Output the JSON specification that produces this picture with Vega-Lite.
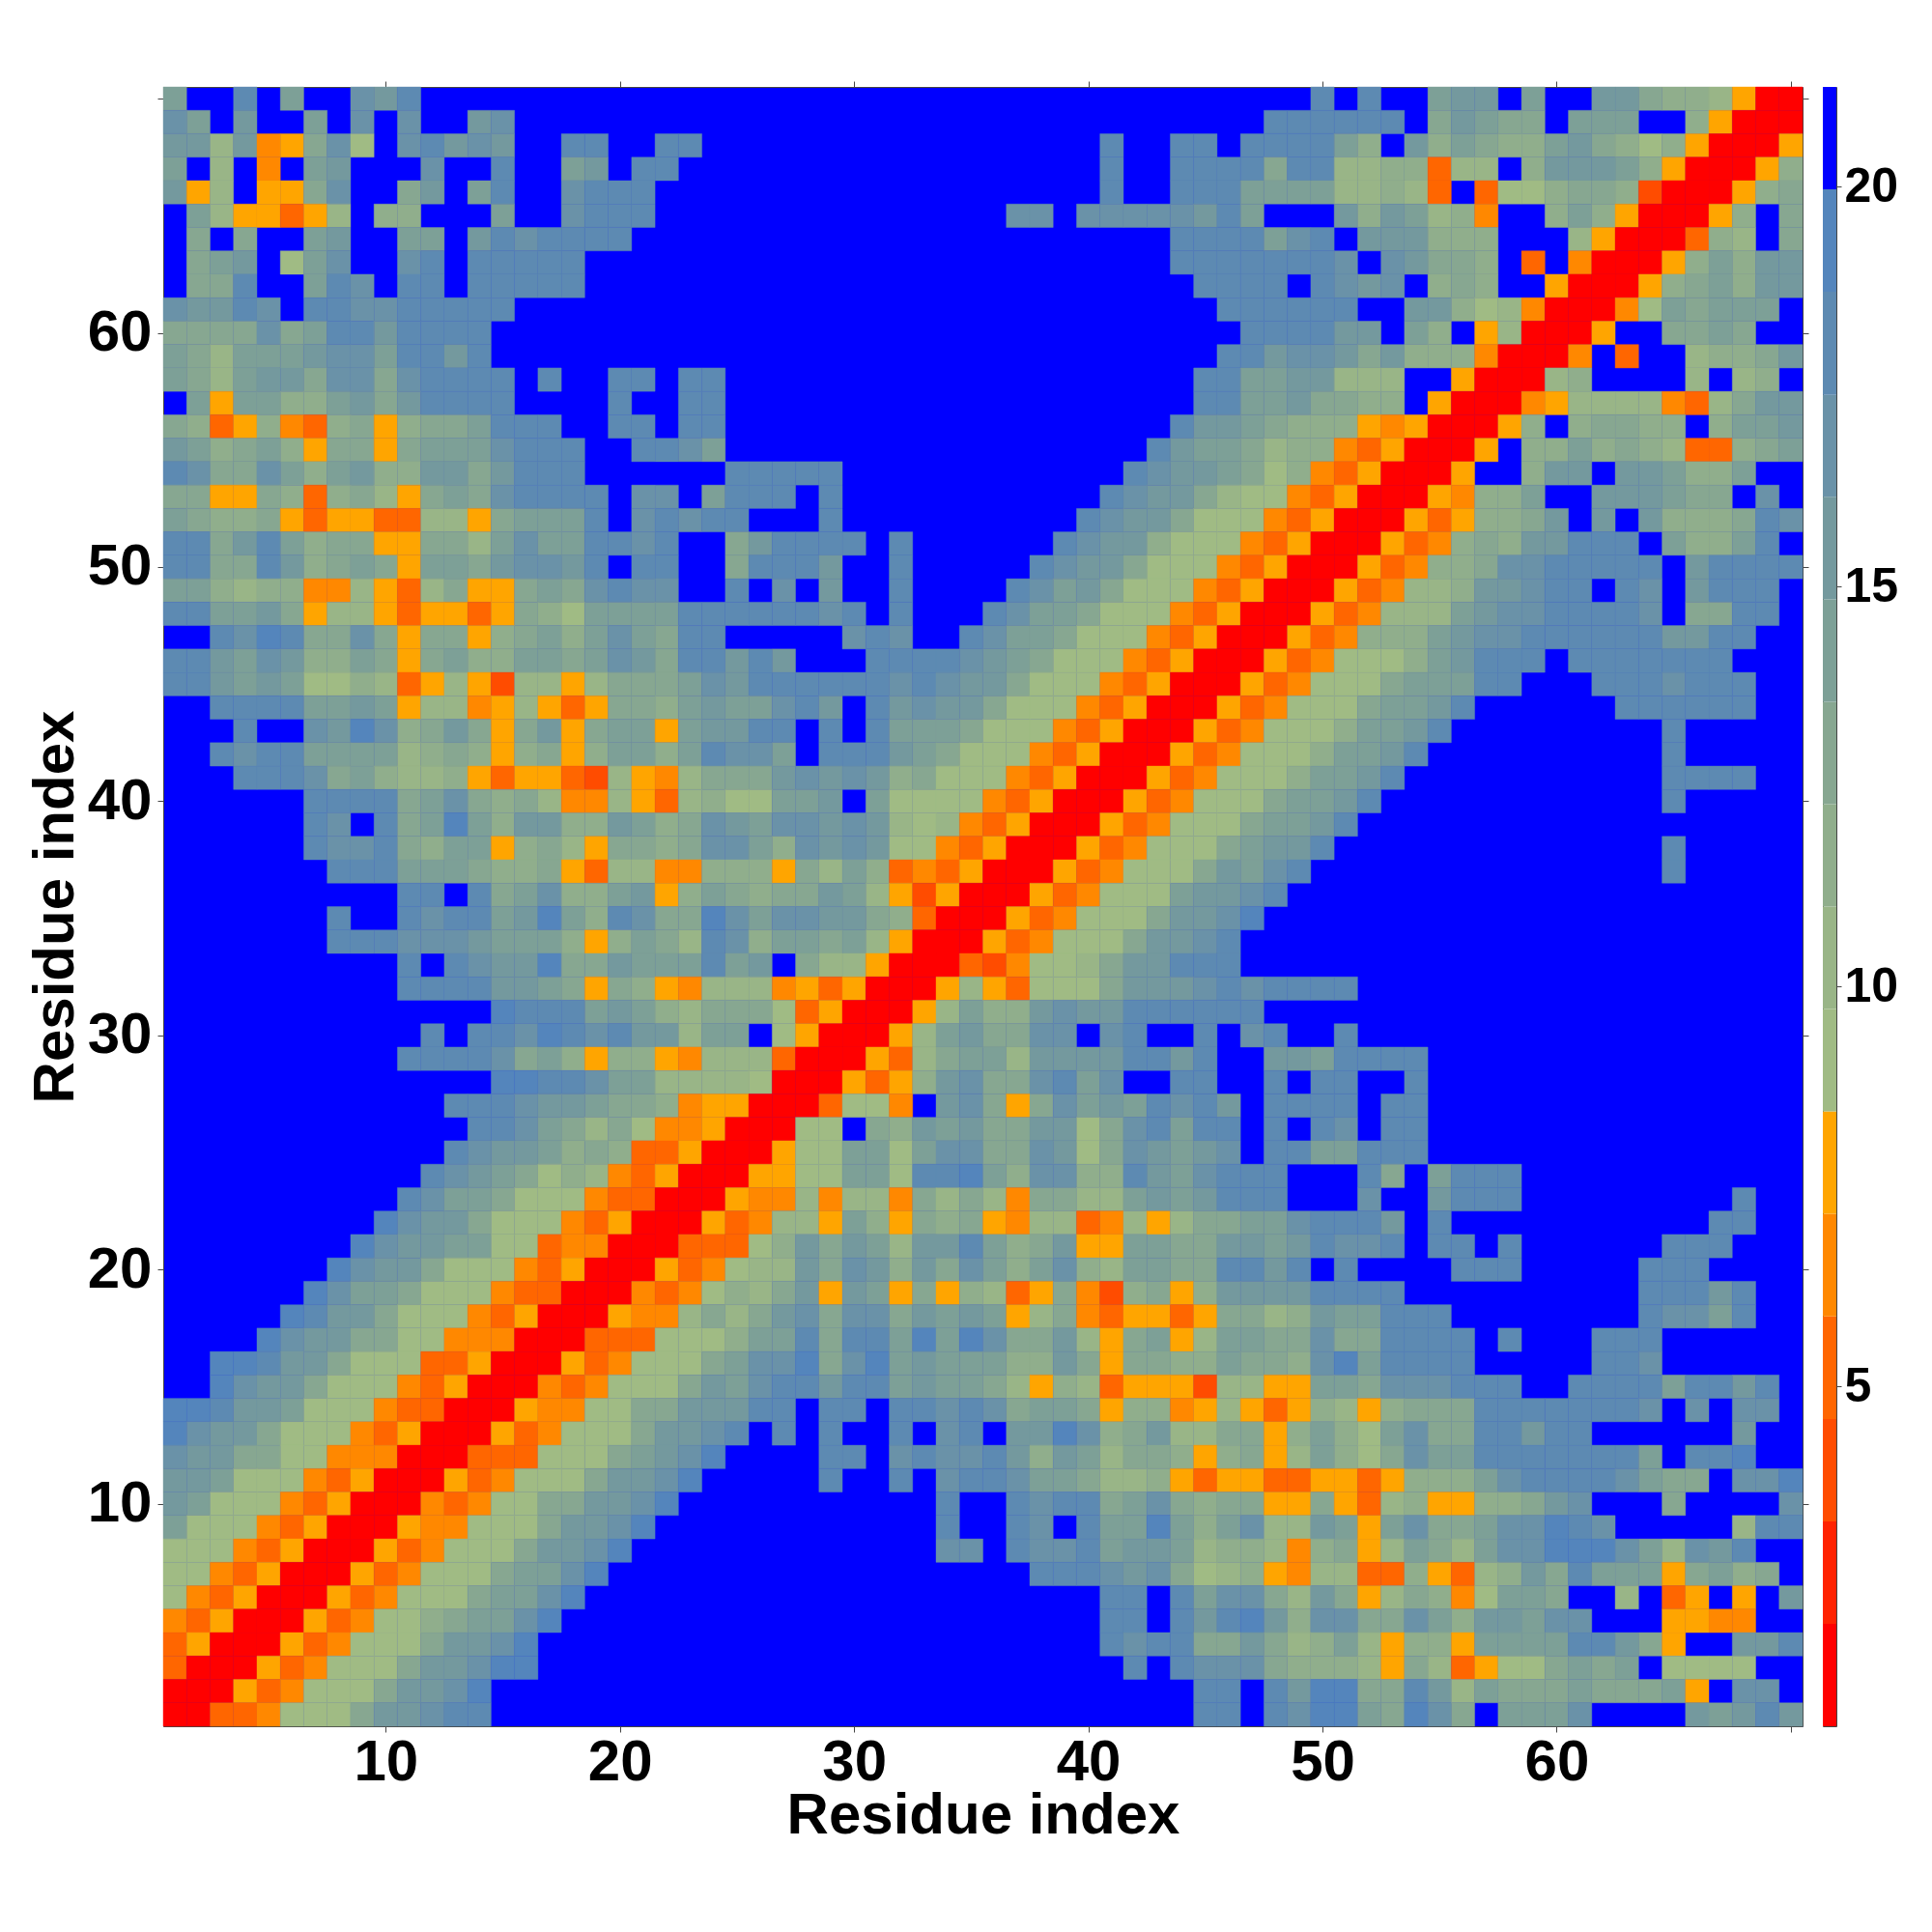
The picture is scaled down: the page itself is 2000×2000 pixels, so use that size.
{"$schema":"https://vega.github.io/schema/vega-lite/v6.json","padding":{"left":26,"top":83,"right":0,"bottom":0},"background":"white","config":{"font":"Liberation Sans","axis":{"labelFont":"Liberation Sans","titleFont":"Liberation Sans","labelFontWeight":"bold","titleFontWeight":"bold","labelColor":"black","titleColor":"black","tickColor":"#444","domainColor":"#444","grid":false}},"spacing":13,"hconcat":[{"width":1697,"height":1697,"view":{"fill":"#0000ff","stroke":"#444"},"resolve":{"axis":{"x":"independent","y":"independent"}},"layer":[{"data":{"values":[
{"x":1,"y":70,"v":14},{"x":4,"y":70,"v":18},{"x":6,"y":70,"v":14},{"x":9,"y":70,"v":17},{"x":10,"y":70,"v":15},{"x":11,"y":70,"v":18},{"x":50,"y":70,"v":18},{"x":52,"y":70,"v":18},{"x":55,"y":70,"v":14},{"x":56,"y":70,"v":15},{"x":57,"y":70,"v":15},{"x":59,"y":70,"v":14},{"x":62,"y":70,"v":15},{"x":63,"y":70,"v":15},{"x":64,"y":70,"v":13},{"x":65,"y":70,"v":12},{"x":66,"y":70,"v":12},{"x":67,"y":70,"v":10},{"x":68,"y":70,"v":8},{"x":69,"y":70,"v":1},{"x":70,"y":70,"v":1},
{"x":1,"y":69,"v":17},{"x":2,"y":69,"v":14},{"x":4,"y":69,"v":15},{"x":7,"y":69,"v":14},{"x":9,"y":69,"v":17},{"x":11,"y":69,"v":17},{"x":14,"y":69,"v":15},{"x":15,"y":69,"v":17},{"x":48,"y":69,"v":18},{"x":49,"y":69,"v":18},{"x":50,"y":69,"v":18},{"x":51,"y":69,"v":18},{"x":52,"y":69,"v":18},{"x":53,"y":69,"v":18},{"x":55,"y":69,"v":13},{"x":56,"y":69,"v":15},{"x":57,"y":69,"v":14},{"x":58,"y":69,"v":13},{"x":59,"y":69,"v":13},{"x":61,"y":69,"v":14},{"x":62,"y":69,"v":14},{"x":63,"y":69,"v":14},{"x":66,"y":69,"v":12},{"x":67,"y":69,"v":8},{"x":68,"y":69,"v":1},{"x":69,"y":69,"v":1},{"x":70,"y":69,"v":1},
{"x":1,"y":68,"v":15},{"x":2,"y":68,"v":15},{"x":3,"y":68,"v":10},{"x":4,"y":68,"v":15},{"x":5,"y":68,"v":7},{"x":6,"y":68,"v":8},{"x":7,"y":68,"v":13},{"x":8,"y":68,"v":17},{"x":9,"y":68,"v":9},{"x":11,"y":68,"v":17},{"x":12,"y":68,"v":18},{"x":13,"y":68,"v":15},{"x":14,"y":68,"v":17},{"x":15,"y":68,"v":15},{"x":18,"y":68,"v":18},{"x":19,"y":68,"v":18},{"x":22,"y":68,"v":18},{"x":23,"y":68,"v":18},{"x":41,"y":68,"v":18},{"x":44,"y":68,"v":18},{"x":45,"y":68,"v":18},{"x":47,"y":68,"v":18},{"x":48,"y":68,"v":18},{"x":49,"y":68,"v":18},{"x":50,"y":68,"v":18},{"x":51,"y":68,"v":14},{"x":52,"y":68,"v":12},{"x":54,"y":68,"v":15},{"x":55,"y":68,"v":12},{"x":56,"y":68,"v":14},{"x":57,"y":68,"v":13},{"x":58,"y":68,"v":12},{"x":59,"y":68,"v":12},{"x":60,"y":68,"v":14},{"x":61,"y":68,"v":15},{"x":62,"y":68,"v":13},{"x":63,"y":68,"v":12},{"x":64,"y":68,"v":9},{"x":65,"y":68,"v":12},{"x":66,"y":68,"v":8},{"x":67,"y":68,"v":1},{"x":68,"y":68,"v":1},{"x":69,"y":68,"v":1},{"x":70,"y":68,"v":8},
{"x":1,"y":67,"v":14},{"x":3,"y":67,"v":10},{"x":5,"y":67,"v":7},{"x":7,"y":67,"v":14},{"x":8,"y":67,"v":15},{"x":12,"y":67,"v":17},{"x":15,"y":67,"v":18},{"x":18,"y":67,"v":14},{"x":19,"y":67,"v":15},{"x":21,"y":67,"v":18},{"x":22,"y":67,"v":18},{"x":41,"y":67,"v":18},{"x":44,"y":67,"v":18},{"x":45,"y":67,"v":18},{"x":46,"y":67,"v":18},{"x":47,"y":67,"v":18},{"x":48,"y":67,"v":13},{"x":49,"y":67,"v":18},{"x":50,"y":67,"v":18},{"x":51,"y":67,"v":10},{"x":52,"y":67,"v":10},{"x":53,"y":67,"v":12},{"x":54,"y":67,"v":12},{"x":55,"y":67,"v":5},{"x":56,"y":67,"v":10},{"x":57,"y":67,"v":10},{"x":59,"y":67,"v":12},{"x":60,"y":67,"v":15},{"x":61,"y":67,"v":15},{"x":62,"y":67,"v":15},{"x":63,"y":67,"v":14},{"x":64,"y":67,"v":12},{"x":65,"y":67,"v":8},{"x":66,"y":67,"v":1},{"x":67,"y":67,"v":1},{"x":68,"y":67,"v":1},{"x":69,"y":67,"v":8},{"x":70,"y":67,"v":12},
{"x":1,"y":66,"v":15},{"x":2,"y":66,"v":8},{"x":3,"y":66,"v":10},{"x":5,"y":66,"v":8},{"x":6,"y":66,"v":8},{"x":7,"y":66,"v":13},{"x":8,"y":66,"v":17},{"x":11,"y":66,"v":13},{"x":12,"y":66,"v":15},{"x":14,"y":66,"v":14},{"x":15,"y":66,"v":18},{"x":18,"y":66,"v":17},{"x":19,"y":66,"v":18},{"x":20,"y":66,"v":18},{"x":21,"y":66,"v":18},{"x":41,"y":66,"v":18},{"x":44,"y":66,"v":18},{"x":45,"y":66,"v":18},{"x":46,"y":66,"v":18},{"x":47,"y":66,"v":14},{"x":48,"y":66,"v":14},{"x":49,"y":66,"v":14},{"x":50,"y":66,"v":14},{"x":51,"y":66,"v":10},{"x":52,"y":66,"v":10},{"x":53,"y":66,"v":12},{"x":54,"y":66,"v":10},{"x":55,"y":66,"v":5},{"x":57,"y":66,"v":5},{"x":58,"y":66,"v":9},{"x":59,"y":66,"v":9},{"x":60,"y":66,"v":12},{"x":61,"y":66,"v":13},{"x":62,"y":66,"v":13},{"x":63,"y":66,"v":12},{"x":64,"y":66,"v":4},{"x":65,"y":66,"v":1},{"x":66,"y":66,"v":1},{"x":67,"y":66,"v":1},{"x":68,"y":66,"v":8},{"x":69,"y":66,"v":12},{"x":70,"y":66,"v":13},
{"x":2,"y":65,"v":14},{"x":3,"y":65,"v":10},{"x":4,"y":65,"v":8},{"x":5,"y":65,"v":8},{"x":6,"y":65,"v":5},{"x":7,"y":65,"v":8},{"x":8,"y":65,"v":10},{"x":10,"y":65,"v":12},{"x":11,"y":65,"v":12},{"x":15,"y":65,"v":14},{"x":18,"y":65,"v":17},{"x":19,"y":65,"v":18},{"x":20,"y":65,"v":18},{"x":21,"y":65,"v":18},{"x":37,"y":65,"v":17},{"x":38,"y":65,"v":17},{"x":40,"y":65,"v":17},{"x":41,"y":65,"v":17},{"x":42,"y":65,"v":17},{"x":43,"y":65,"v":17},{"x":44,"y":65,"v":17},{"x":45,"y":65,"v":15},{"x":46,"y":65,"v":18},{"x":47,"y":65,"v":14},{"x":51,"y":65,"v":15},{"x":52,"y":65,"v":12},{"x":53,"y":65,"v":15},{"x":54,"y":65,"v":14},{"x":55,"y":65,"v":10},{"x":56,"y":65,"v":12},{"x":57,"y":65,"v":7},{"x":60,"y":65,"v":12},{"x":61,"y":65,"v":14},{"x":62,"y":65,"v":12},{"x":63,"y":65,"v":8},{"x":64,"y":65,"v":1},{"x":65,"y":65,"v":1},{"x":66,"y":65,"v":1},{"x":67,"y":65,"v":8},{"x":68,"y":65,"v":12},{"x":70,"y":65,"v":13},
{"x":2,"y":64,"v":13},{"x":4,"y":64,"v":13},{"x":7,"y":64,"v":14},{"x":8,"y":64,"v":15},{"x":11,"y":64,"v":14},{"x":12,"y":64,"v":14},{"x":14,"y":64,"v":15},{"x":15,"y":64,"v":18},{"x":16,"y":64,"v":17},{"x":17,"y":64,"v":18},{"x":18,"y":64,"v":18},{"x":19,"y":64,"v":18},{"x":20,"y":64,"v":18},{"x":44,"y":64,"v":18},{"x":45,"y":64,"v":18},{"x":46,"y":64,"v":18},{"x":47,"y":64,"v":18},{"x":48,"y":64,"v":14},{"x":49,"y":64,"v":17},{"x":50,"y":64,"v":18},{"x":52,"y":64,"v":15},{"x":53,"y":64,"v":15},{"x":54,"y":64,"v":15},{"x":55,"y":64,"v":12},{"x":56,"y":64,"v":12},{"x":57,"y":64,"v":12},{"x":61,"y":64,"v":10},{"x":62,"y":64,"v":8},{"x":63,"y":64,"v":1},{"x":64,"y":64,"v":1},{"x":65,"y":64,"v":1},{"x":66,"y":64,"v":5},{"x":67,"y":64,"v":12},{"x":68,"y":64,"v":10},{"x":70,"y":64,"v":13},
{"x":2,"y":63,"v":13},{"x":3,"y":63,"v":14},{"x":4,"y":63,"v":15},{"x":6,"y":63,"v":9},{"x":7,"y":63,"v":14},{"x":8,"y":63,"v":17},{"x":11,"y":63,"v":17},{"x":12,"y":63,"v":18},{"x":14,"y":63,"v":18},{"x":15,"y":63,"v":18},{"x":16,"y":63,"v":18},{"x":17,"y":63,"v":18},{"x":18,"y":63,"v":18},{"x":44,"y":63,"v":18},{"x":45,"y":63,"v":18},{"x":46,"y":63,"v":18},{"x":47,"y":63,"v":18},{"x":48,"y":63,"v":18},{"x":49,"y":63,"v":18},{"x":50,"y":63,"v":18},{"x":51,"y":63,"v":17},{"x":53,"y":63,"v":17},{"x":54,"y":63,"v":15},{"x":55,"y":63,"v":13},{"x":56,"y":63,"v":13},{"x":57,"y":63,"v":12},{"x":59,"y":63,"v":5},{"x":61,"y":63,"v":7},{"x":62,"y":63,"v":1},{"x":63,"y":63,"v":1},{"x":64,"y":63,"v":1},{"x":65,"y":63,"v":8},{"x":66,"y":63,"v":12},{"x":67,"y":63,"v":14},{"x":68,"y":63,"v":12},{"x":69,"y":63,"v":15},{"x":70,"y":63,"v":15},
{"x":2,"y":62,"v":13},{"x":3,"y":62,"v":13},{"x":4,"y":62,"v":18},{"x":7,"y":62,"v":14},{"x":8,"y":62,"v":18},{"x":9,"y":62,"v":17},{"x":11,"y":62,"v":18},{"x":12,"y":62,"v":18},{"x":14,"y":62,"v":18},{"x":15,"y":62,"v":18},{"x":16,"y":62,"v":18},{"x":17,"y":62,"v":18},{"x":18,"y":62,"v":18},{"x":45,"y":62,"v":18},{"x":46,"y":62,"v":18},{"x":47,"y":62,"v":18},{"x":48,"y":62,"v":18},{"x":50,"y":62,"v":18},{"x":51,"y":62,"v":17},{"x":52,"y":62,"v":15},{"x":53,"y":62,"v":17},{"x":55,"y":62,"v":12},{"x":56,"y":62,"v":13},{"x":57,"y":62,"v":12},{"x":60,"y":62,"v":8},{"x":61,"y":62,"v":1},{"x":62,"y":62,"v":1},{"x":63,"y":62,"v":1},{"x":64,"y":62,"v":8},{"x":65,"y":62,"v":12},{"x":66,"y":62,"v":13},{"x":67,"y":62,"v":14},{"x":68,"y":62,"v":12},{"x":69,"y":62,"v":15},{"x":70,"y":62,"v":15},
{"x":1,"y":61,"v":17},{"x":2,"y":61,"v":15},{"x":3,"y":61,"v":15},{"x":4,"y":61,"v":18},{"x":5,"y":61,"v":17},{"x":7,"y":61,"v":18},{"x":8,"y":61,"v":18},{"x":9,"y":61,"v":17},{"x":10,"y":61,"v":17},{"x":11,"y":61,"v":18},{"x":12,"y":61,"v":18},{"x":13,"y":61,"v":18},{"x":14,"y":61,"v":18},{"x":15,"y":61,"v":18},{"x":46,"y":61,"v":18},{"x":47,"y":61,"v":18},{"x":48,"y":61,"v":18},{"x":49,"y":61,"v":18},{"x":50,"y":61,"v":18},{"x":51,"y":61,"v":18},{"x":54,"y":61,"v":15},{"x":55,"y":61,"v":15},{"x":56,"y":61,"v":12},{"x":57,"y":61,"v":9},{"x":58,"y":61,"v":10},{"x":59,"y":61,"v":7},{"x":60,"y":61,"v":1},{"x":61,"y":61,"v":1},{"x":62,"y":61,"v":1},{"x":63,"y":61,"v":7},{"x":64,"y":61,"v":9},{"x":65,"y":61,"v":14},{"x":66,"y":61,"v":13},{"x":67,"y":61,"v":14},{"x":68,"y":61,"v":14},{"x":69,"y":61,"v":14},
{"x":1,"y":60,"v":13},{"x":2,"y":60,"v":13},{"x":3,"y":60,"v":13},{"x":4,"y":60,"v":13},{"x":5,"y":60,"v":17},{"x":6,"y":60,"v":13},{"x":7,"y":60,"v":14},{"x":8,"y":60,"v":18},{"x":9,"y":60,"v":18},{"x":10,"y":60,"v":15},{"x":11,"y":60,"v":18},{"x":12,"y":60,"v":18},{"x":13,"y":60,"v":18},{"x":14,"y":60,"v":18},{"x":47,"y":60,"v":18},{"x":48,"y":60,"v":18},{"x":49,"y":60,"v":18},{"x":50,"y":60,"v":18},{"x":51,"y":60,"v":15},{"x":52,"y":60,"v":15},{"x":54,"y":60,"v":14},{"x":55,"y":60,"v":12},{"x":57,"y":60,"v":8},{"x":58,"y":60,"v":10},{"x":59,"y":60,"v":1},{"x":60,"y":60,"v":1},{"x":61,"y":60,"v":1},{"x":62,"y":60,"v":8},{"x":65,"y":60,"v":13},{"x":66,"y":60,"v":13},{"x":67,"y":60,"v":14},{"x":68,"y":60,"v":13},
{"x":1,"y":59,"v":14},{"x":2,"y":59,"v":13},{"x":3,"y":59,"v":10},{"x":4,"y":59,"v":14},{"x":5,"y":59,"v":14},{"x":6,"y":59,"v":14},{"x":7,"y":59,"v":15},{"x":8,"y":59,"v":17},{"x":9,"y":59,"v":17},{"x":10,"y":59,"v":14},{"x":11,"y":59,"v":18},{"x":12,"y":59,"v":18},{"x":13,"y":59,"v":15},{"x":14,"y":59,"v":18},{"x":46,"y":59,"v":18},{"x":47,"y":59,"v":18},{"x":48,"y":59,"v":15},{"x":49,"y":59,"v":17},{"x":50,"y":59,"v":17},{"x":51,"y":59,"v":15},{"x":52,"y":59,"v":13},{"x":53,"y":59,"v":15},{"x":54,"y":59,"v":12},{"x":55,"y":59,"v":12},{"x":56,"y":59,"v":12},{"x":57,"y":59,"v":7},{"x":58,"y":59,"v":1},{"x":59,"y":59,"v":1},{"x":60,"y":59,"v":1},{"x":61,"y":59,"v":7},{"x":63,"y":59,"v":5},{"x":66,"y":59,"v":10},{"x":67,"y":59,"v":12},{"x":68,"y":59,"v":12},{"x":69,"y":59,"v":13},{"x":70,"y":59,"v":15},
{"x":1,"y":58,"v":14},{"x":2,"y":58,"v":13},{"x":3,"y":58,"v":10},{"x":4,"y":58,"v":14},{"x":5,"y":58,"v":15},{"x":6,"y":58,"v":15},{"x":7,"y":58,"v":13},{"x":8,"y":58,"v":17},{"x":9,"y":58,"v":17},{"x":10,"y":58,"v":13},{"x":11,"y":58,"v":17},{"x":12,"y":58,"v":18},{"x":13,"y":58,"v":18},{"x":14,"y":58,"v":18},{"x":15,"y":58,"v":18},{"x":17,"y":58,"v":18},{"x":20,"y":58,"v":18},{"x":21,"y":58,"v":18},{"x":23,"y":58,"v":18},{"x":24,"y":58,"v":18},{"x":45,"y":58,"v":18},{"x":46,"y":58,"v":18},{"x":47,"y":58,"v":14},{"x":48,"y":58,"v":14},{"x":49,"y":58,"v":15},{"x":50,"y":58,"v":15},{"x":51,"y":58,"v":10},{"x":52,"y":58,"v":10},{"x":53,"y":58,"v":10},{"x":56,"y":58,"v":8},{"x":57,"y":58,"v":1},{"x":58,"y":58,"v":1},{"x":59,"y":58,"v":1},{"x":60,"y":58,"v":10},{"x":61,"y":58,"v":12},{"x":66,"y":58,"v":10},{"x":68,"y":58,"v":10},{"x":69,"y":58,"v":12},
{"x":2,"y":57,"v":14},{"x":3,"y":57,"v":8},{"x":4,"y":57,"v":14},{"x":5,"y":57,"v":14},{"x":6,"y":57,"v":12},{"x":7,"y":57,"v":12},{"x":8,"y":57,"v":14},{"x":9,"y":57,"v":15},{"x":10,"y":57,"v":13},{"x":11,"y":57,"v":15},{"x":12,"y":57,"v":18},{"x":13,"y":57,"v":18},{"x":14,"y":57,"v":18},{"x":15,"y":57,"v":18},{"x":20,"y":57,"v":18},{"x":23,"y":57,"v":18},{"x":24,"y":57,"v":18},{"x":45,"y":57,"v":18},{"x":46,"y":57,"v":18},{"x":47,"y":57,"v":14},{"x":48,"y":57,"v":14},{"x":49,"y":57,"v":15},{"x":50,"y":57,"v":13},{"x":51,"y":57,"v":13},{"x":52,"y":57,"v":12},{"x":53,"y":57,"v":12},{"x":55,"y":57,"v":8},{"x":56,"y":57,"v":1},{"x":57,"y":57,"v":1},{"x":58,"y":57,"v":1},{"x":59,"y":57,"v":7},{"x":60,"y":57,"v":8},{"x":61,"y":57,"v":10},{"x":62,"y":57,"v":10},{"x":63,"y":57,"v":10},{"x":64,"y":57,"v":10},{"x":65,"y":57,"v":7},{"x":66,"y":57,"v":5},{"x":67,"y":57,"v":10},{"x":68,"y":57,"v":13},{"x":69,"y":57,"v":15},{"x":70,"y":57,"v":15},
{"x":1,"y":56,"v":13},{"x":2,"y":56,"v":12},{"x":3,"y":56,"v":5},{"x":4,"y":56,"v":8},{"x":5,"y":56,"v":12},{"x":6,"y":56,"v":7},{"x":7,"y":56,"v":5},{"x":8,"y":56,"v":12},{"x":9,"y":56,"v":13},{"x":10,"y":56,"v":8},{"x":11,"y":56,"v":12},{"x":12,"y":56,"v":13},{"x":13,"y":56,"v":13},{"x":14,"y":56,"v":14},{"x":15,"y":56,"v":18},{"x":16,"y":56,"v":18},{"x":17,"y":56,"v":18},{"x":20,"y":56,"v":18},{"x":21,"y":56,"v":18},{"x":23,"y":56,"v":18},{"x":24,"y":56,"v":18},{"x":44,"y":56,"v":18},{"x":45,"y":56,"v":15},{"x":46,"y":56,"v":15},{"x":47,"y":56,"v":14},{"x":48,"y":56,"v":13},{"x":49,"y":56,"v":12},{"x":50,"y":56,"v":12},{"x":51,"y":56,"v":12},{"x":52,"y":56,"v":8},{"x":53,"y":56,"v":7},{"x":54,"y":56,"v":8},{"x":55,"y":56,"v":1},{"x":56,"y":56,"v":1},{"x":57,"y":56,"v":1},{"x":58,"y":56,"v":8},{"x":59,"y":56,"v":12},{"x":61,"y":56,"v":12},{"x":62,"y":56,"v":13},{"x":63,"y":56,"v":13},{"x":64,"y":56,"v":12},{"x":65,"y":56,"v":12},{"x":67,"y":56,"v":12},{"x":68,"y":56,"v":14},{"x":69,"y":56,"v":14},{"x":70,"y":56,"v":15},
{"x":1,"y":55,"v":15},{"x":2,"y":55,"v":14},{"x":3,"y":55,"v":12},{"x":4,"y":55,"v":13},{"x":5,"y":55,"v":14},{"x":6,"y":55,"v":12},{"x":7,"y":55,"v":8},{"x":8,"y":55,"v":13},{"x":9,"y":55,"v":13},{"x":10,"y":55,"v":8},{"x":11,"y":55,"v":13},{"x":12,"y":55,"v":14},{"x":13,"y":55,"v":14},{"x":14,"y":55,"v":14},{"x":15,"y":55,"v":17},{"x":16,"y":55,"v":18},{"x":17,"y":55,"v":18},{"x":18,"y":55,"v":18},{"x":21,"y":55,"v":18},{"x":22,"y":55,"v":18},{"x":23,"y":55,"v":17},{"x":24,"y":55,"v":14},{"x":43,"y":55,"v":18},{"x":44,"y":55,"v":15},{"x":45,"y":55,"v":14},{"x":46,"y":55,"v":14},{"x":47,"y":55,"v":13},{"x":48,"y":55,"v":10},{"x":49,"y":55,"v":12},{"x":50,"y":55,"v":12},{"x":51,"y":55,"v":7},{"x":52,"y":55,"v":5},{"x":53,"y":55,"v":8},{"x":54,"y":55,"v":1},{"x":55,"y":55,"v":1},{"x":56,"y":55,"v":1},{"x":57,"y":55,"v":8},{"x":59,"y":55,"v":12},{"x":60,"y":55,"v":12},{"x":61,"y":55,"v":14},{"x":62,"y":55,"v":12},{"x":63,"y":55,"v":13},{"x":64,"y":55,"v":12},{"x":65,"y":55,"v":10},{"x":66,"y":55,"v":5},{"x":67,"y":55,"v":5},{"x":68,"y":55,"v":12},{"x":69,"y":55,"v":13},{"x":70,"y":55,"v":14},
{"x":1,"y":54,"v":18},{"x":2,"y":54,"v":17},{"x":3,"y":54,"v":13},{"x":4,"y":54,"v":13},{"x":5,"y":54,"v":17},{"x":6,"y":54,"v":14},{"x":7,"y":54,"v":12},{"x":8,"y":54,"v":14},{"x":9,"y":54,"v":15},{"x":10,"y":54,"v":12},{"x":11,"y":54,"v":12},{"x":12,"y":54,"v":15},{"x":13,"y":54,"v":15},{"x":14,"y":54,"v":13},{"x":15,"y":54,"v":15},{"x":16,"y":54,"v":18},{"x":17,"y":54,"v":18},{"x":18,"y":54,"v":18},{"x":25,"y":54,"v":18},{"x":26,"y":54,"v":18},{"x":27,"y":54,"v":18},{"x":28,"y":54,"v":18},{"x":29,"y":54,"v":18},{"x":42,"y":54,"v":18},{"x":43,"y":54,"v":17},{"x":44,"y":54,"v":15},{"x":45,"y":54,"v":15},{"x":46,"y":54,"v":14},{"x":47,"y":54,"v":13},{"x":48,"y":54,"v":9},{"x":49,"y":54,"v":12},{"x":50,"y":54,"v":7},{"x":51,"y":54,"v":5},{"x":52,"y":54,"v":8},{"x":53,"y":54,"v":1},{"x":54,"y":54,"v":1},{"x":55,"y":54,"v":1},{"x":56,"y":54,"v":8},{"x":59,"y":54,"v":12},{"x":60,"y":54,"v":15},{"x":61,"y":54,"v":15},{"x":63,"y":54,"v":15},{"x":64,"y":54,"v":15},{"x":65,"y":54,"v":14},{"x":66,"y":54,"v":12},{"x":67,"y":54,"v":12},{"x":68,"y":54,"v":14},
{"x":1,"y":53,"v":13},{"x":2,"y":53,"v":13},{"x":3,"y":53,"v":8},{"x":4,"y":53,"v":8},{"x":5,"y":53,"v":13},{"x":6,"y":53,"v":12},{"x":7,"y":53,"v":5},{"x":8,"y":53,"v":12},{"x":9,"y":53,"v":13},{"x":10,"y":53,"v":10},{"x":11,"y":53,"v":8},{"x":12,"y":53,"v":13},{"x":13,"y":53,"v":14},{"x":14,"y":53,"v":13},{"x":15,"y":53,"v":17},{"x":16,"y":53,"v":18},{"x":17,"y":53,"v":18},{"x":18,"y":53,"v":18},{"x":19,"y":53,"v":18},{"x":21,"y":53,"v":17},{"x":22,"y":53,"v":17},{"x":24,"y":53,"v":14},{"x":25,"y":53,"v":18},{"x":26,"y":53,"v":18},{"x":27,"y":53,"v":18},{"x":29,"y":53,"v":18},{"x":41,"y":53,"v":18},{"x":42,"y":53,"v":17},{"x":43,"y":53,"v":15},{"x":44,"y":53,"v":15},{"x":45,"y":53,"v":13},{"x":46,"y":53,"v":10},{"x":47,"y":53,"v":9},{"x":48,"y":53,"v":9},{"x":49,"y":53,"v":7},{"x":50,"y":53,"v":5},{"x":51,"y":53,"v":8},{"x":52,"y":53,"v":1},{"x":53,"y":53,"v":1},{"x":54,"y":53,"v":1},{"x":55,"y":53,"v":8},{"x":56,"y":53,"v":7},{"x":57,"y":53,"v":12},{"x":58,"y":53,"v":12},{"x":59,"y":53,"v":14},{"x":62,"y":53,"v":15},{"x":63,"y":53,"v":15},{"x":64,"y":53,"v":15},{"x":65,"y":53,"v":14},{"x":66,"y":53,"v":13},{"x":67,"y":53,"v":13},{"x":69,"y":53,"v":17},
{"x":1,"y":52,"v":14},{"x":2,"y":52,"v":13},{"x":3,"y":52,"v":12},{"x":4,"y":52,"v":12},{"x":5,"y":52,"v":13},{"x":6,"y":52,"v":8},{"x":7,"y":52,"v":5},{"x":8,"y":52,"v":8},{"x":9,"y":52,"v":8},{"x":10,"y":52,"v":5},{"x":11,"y":52,"v":5},{"x":12,"y":52,"v":10},{"x":13,"y":52,"v":10},{"x":14,"y":52,"v":8},{"x":15,"y":52,"v":13},{"x":16,"y":52,"v":14},{"x":17,"y":52,"v":14},{"x":18,"y":52,"v":14},{"x":19,"y":52,"v":18},{"x":21,"y":52,"v":17},{"x":22,"y":52,"v":18},{"x":23,"y":52,"v":17},{"x":24,"y":52,"v":18},{"x":25,"y":52,"v":18},{"x":29,"y":52,"v":18},{"x":40,"y":52,"v":18},{"x":41,"y":52,"v":17},{"x":42,"y":52,"v":15},{"x":43,"y":52,"v":15},{"x":44,"y":52,"v":13},{"x":45,"y":52,"v":9},{"x":46,"y":52,"v":9},{"x":47,"y":52,"v":9},{"x":48,"y":52,"v":7},{"x":49,"y":52,"v":5},{"x":50,"y":52,"v":8},{"x":51,"y":52,"v":1},{"x":52,"y":52,"v":1},{"x":53,"y":52,"v":1},{"x":54,"y":52,"v":8},{"x":55,"y":52,"v":5},{"x":56,"y":52,"v":8},{"x":57,"y":52,"v":12},{"x":58,"y":52,"v":12},{"x":59,"y":52,"v":13},{"x":60,"y":52,"v":15},{"x":62,"y":52,"v":15},{"x":64,"y":52,"v":15},{"x":65,"y":52,"v":12},{"x":66,"y":52,"v":12},{"x":67,"y":52,"v":12},{"x":68,"y":52,"v":13},{"x":69,"y":52,"v":18},{"x":70,"y":52,"v":17},
{"x":1,"y":51,"v":18},{"x":2,"y":51,"v":18},{"x":3,"y":51,"v":13},{"x":4,"y":51,"v":15},{"x":5,"y":51,"v":18},{"x":6,"y":51,"v":14},{"x":7,"y":51,"v":12},{"x":8,"y":51,"v":13},{"x":9,"y":51,"v":13},{"x":10,"y":51,"v":8},{"x":11,"y":51,"v":8},{"x":12,"y":51,"v":13},{"x":13,"y":51,"v":13},{"x":14,"y":51,"v":10},{"x":15,"y":51,"v":14},{"x":16,"y":51,"v":17},{"x":17,"y":51,"v":14},{"x":18,"y":51,"v":14},{"x":19,"y":51,"v":18},{"x":20,"y":51,"v":18},{"x":21,"y":51,"v":17},{"x":22,"y":51,"v":18},{"x":25,"y":51,"v":13},{"x":26,"y":51,"v":15},{"x":27,"y":51,"v":18},{"x":28,"y":51,"v":18},{"x":29,"y":51,"v":18},{"x":30,"y":51,"v":18},{"x":32,"y":51,"v":18},{"x":39,"y":51,"v":18},{"x":40,"y":51,"v":17},{"x":41,"y":51,"v":15},{"x":42,"y":51,"v":15},{"x":43,"y":51,"v":12},{"x":44,"y":51,"v":9},{"x":45,"y":51,"v":9},{"x":46,"y":51,"v":9},{"x":47,"y":51,"v":7},{"x":48,"y":51,"v":5},{"x":49,"y":51,"v":8},{"x":50,"y":51,"v":1},{"x":51,"y":51,"v":1},{"x":52,"y":51,"v":1},{"x":53,"y":51,"v":8},{"x":54,"y":51,"v":5},{"x":55,"y":51,"v":7},{"x":56,"y":51,"v":12},{"x":57,"y":51,"v":13},{"x":58,"y":51,"v":12},{"x":59,"y":51,"v":15},{"x":60,"y":51,"v":15},{"x":61,"y":51,"v":18},{"x":62,"y":51,"v":18},{"x":63,"y":51,"v":18},{"x":65,"y":51,"v":14},{"x":66,"y":51,"v":12},{"x":67,"y":51,"v":12},{"x":68,"y":51,"v":14},{"x":69,"y":51,"v":18},
{"x":1,"y":50,"v":18},{"x":2,"y":50,"v":18},{"x":3,"y":50,"v":13},{"x":4,"y":50,"v":13},{"x":5,"y":50,"v":18},{"x":6,"y":50,"v":15},{"x":7,"y":50,"v":12},{"x":8,"y":50,"v":13},{"x":9,"y":50,"v":14},{"x":10,"y":50,"v":13},{"x":11,"y":50,"v":8},{"x":12,"y":50,"v":14},{"x":13,"y":50,"v":14},{"x":14,"y":50,"v":13},{"x":15,"y":50,"v":15},{"x":16,"y":50,"v":17},{"x":17,"y":50,"v":17},{"x":18,"y":50,"v":15},{"x":19,"y":50,"v":18},{"x":21,"y":50,"v":18},{"x":22,"y":50,"v":18},{"x":25,"y":50,"v":13},{"x":26,"y":50,"v":18},{"x":27,"y":50,"v":18},{"x":28,"y":50,"v":18},{"x":29,"y":50,"v":15},{"x":32,"y":50,"v":18},{"x":38,"y":50,"v":18},{"x":39,"y":50,"v":17},{"x":40,"y":50,"v":15},{"x":41,"y":50,"v":15},{"x":42,"y":50,"v":13},{"x":43,"y":50,"v":9},{"x":44,"y":50,"v":9},{"x":45,"y":50,"v":9},{"x":46,"y":50,"v":7},{"x":47,"y":50,"v":5},{"x":48,"y":50,"v":8},{"x":49,"y":50,"v":1},{"x":50,"y":50,"v":1},{"x":51,"y":50,"v":1},{"x":52,"y":50,"v":8},{"x":53,"y":50,"v":5},{"x":54,"y":50,"v":7},{"x":55,"y":50,"v":12},{"x":56,"y":50,"v":12},{"x":57,"y":50,"v":13},{"x":58,"y":50,"v":17},{"x":59,"y":50,"v":17},{"x":60,"y":50,"v":18},{"x":61,"y":50,"v":18},{"x":62,"y":50,"v":18},{"x":63,"y":50,"v":18},{"x":64,"y":50,"v":18},{"x":66,"y":50,"v":15},{"x":67,"y":50,"v":18},{"x":68,"y":50,"v":18},{"x":69,"y":50,"v":18},{"x":70,"y":50,"v":18},
{"x":1,"y":49,"v":14},{"x":2,"y":49,"v":14},{"x":3,"y":49,"v":12},{"x":4,"y":49,"v":10},{"x":5,"y":49,"v":12},{"x":6,"y":49,"v":12},{"x":7,"y":49,"v":7},{"x":8,"y":49,"v":7},{"x":9,"y":49,"v":10},{"x":10,"y":49,"v":8},{"x":11,"y":49,"v":5},{"x":12,"y":49,"v":10},{"x":13,"y":49,"v":13},{"x":14,"y":49,"v":8},{"x":15,"y":49,"v":8},{"x":16,"y":49,"v":13},{"x":17,"y":49,"v":14},{"x":18,"y":49,"v":13},{"x":19,"y":49,"v":17},{"x":20,"y":49,"v":18},{"x":21,"y":49,"v":17},{"x":22,"y":49,"v":17},{"x":25,"y":49,"v":18},{"x":27,"y":49,"v":17},{"x":29,"y":49,"v":15},{"x":32,"y":49,"v":18},{"x":37,"y":49,"v":18},{"x":38,"y":49,"v":17},{"x":39,"y":49,"v":14},{"x":40,"y":49,"v":15},{"x":41,"y":49,"v":13},{"x":42,"y":49,"v":9},{"x":43,"y":49,"v":9},{"x":44,"y":49,"v":9},{"x":45,"y":49,"v":7},{"x":46,"y":49,"v":5},{"x":47,"y":49,"v":8},{"x":48,"y":49,"v":1},{"x":49,"y":49,"v":1},{"x":50,"y":49,"v":1},{"x":51,"y":49,"v":8},{"x":52,"y":49,"v":5},{"x":53,"y":49,"v":7},{"x":54,"y":49,"v":10},{"x":55,"y":49,"v":10},{"x":56,"y":49,"v":12},{"x":57,"y":49,"v":15},{"x":58,"y":49,"v":15},{"x":59,"y":49,"v":17},{"x":60,"y":49,"v":18},{"x":61,"y":49,"v":18},{"x":63,"y":49,"v":18},{"x":64,"y":49,"v":17},{"x":66,"y":49,"v":15},{"x":67,"y":49,"v":18},{"x":68,"y":49,"v":18},{"x":69,"y":49,"v":18},
{"x":1,"y":48,"v":18},{"x":2,"y":48,"v":18},{"x":3,"y":48,"v":14},{"x":4,"y":48,"v":14},{"x":5,"y":48,"v":15},{"x":6,"y":48,"v":13},{"x":7,"y":48,"v":8},{"x":8,"y":48,"v":10},{"x":9,"y":48,"v":10},{"x":10,"y":48,"v":8},{"x":11,"y":48,"v":5},{"x":12,"y":48,"v":8},{"x":13,"y":48,"v":8},{"x":14,"y":48,"v":5},{"x":15,"y":48,"v":8},{"x":16,"y":48,"v":13},{"x":17,"y":48,"v":12},{"x":18,"y":48,"v":9},{"x":19,"y":48,"v":14},{"x":20,"y":48,"v":14},{"x":21,"y":48,"v":14},{"x":22,"y":48,"v":14},{"x":23,"y":48,"v":18},{"x":24,"y":48,"v":18},{"x":25,"y":48,"v":18},{"x":26,"y":48,"v":18},{"x":27,"y":48,"v":18},{"x":28,"y":48,"v":18},{"x":29,"y":48,"v":17},{"x":30,"y":48,"v":18},{"x":32,"y":48,"v":18},{"x":36,"y":48,"v":18},{"x":37,"y":48,"v":17},{"x":38,"y":48,"v":14},{"x":39,"y":48,"v":14},{"x":40,"y":48,"v":13},{"x":41,"y":48,"v":9},{"x":42,"y":48,"v":9},{"x":43,"y":48,"v":9},{"x":44,"y":48,"v":7},{"x":45,"y":48,"v":5},{"x":46,"y":48,"v":8},{"x":47,"y":48,"v":1},{"x":48,"y":48,"v":1},{"x":49,"y":48,"v":1},{"x":50,"y":48,"v":8},{"x":51,"y":48,"v":5},{"x":52,"y":48,"v":7},{"x":53,"y":48,"v":10},{"x":54,"y":48,"v":10},{"x":55,"y":48,"v":10},{"x":56,"y":48,"v":14},{"x":57,"y":48,"v":15},{"x":58,"y":48,"v":17},{"x":59,"y":48,"v":17},{"x":60,"y":48,"v":18},{"x":61,"y":48,"v":18},{"x":62,"y":48,"v":18},{"x":63,"y":48,"v":18},{"x":64,"y":48,"v":17},{"x":66,"y":48,"v":13},{"x":67,"y":48,"v":13},{"x":68,"y":48,"v":18},{"x":69,"y":48,"v":18},
{"x":3,"y":47,"v":18},{"x":4,"y":47,"v":17},{"x":5,"y":47,"v":19},{"x":6,"y":47,"v":18},{"x":7,"y":47,"v":13},{"x":8,"y":47,"v":13},{"x":9,"y":47,"v":17},{"x":10,"y":47,"v":13},{"x":11,"y":47,"v":8},{"x":12,"y":47,"v":13},{"x":13,"y":47,"v":13},{"x":14,"y":47,"v":8},{"x":15,"y":47,"v":12},{"x":16,"y":47,"v":13},{"x":17,"y":47,"v":14},{"x":18,"y":47,"v":12},{"x":19,"y":47,"v":14},{"x":20,"y":47,"v":17},{"x":21,"y":47,"v":14},{"x":22,"y":47,"v":13},{"x":23,"y":47,"v":18},{"x":24,"y":47,"v":18},{"x":30,"y":47,"v":17},{"x":31,"y":47,"v":18},{"x":32,"y":47,"v":17},{"x":35,"y":47,"v":18},{"x":36,"y":47,"v":17},{"x":37,"y":47,"v":14},{"x":38,"y":47,"v":14},{"x":39,"y":47,"v":13},{"x":40,"y":47,"v":9},{"x":41,"y":47,"v":9},{"x":42,"y":47,"v":9},{"x":43,"y":47,"v":7},{"x":44,"y":47,"v":5},{"x":45,"y":47,"v":8},{"x":46,"y":47,"v":1},{"x":47,"y":47,"v":1},{"x":48,"y":47,"v":1},{"x":49,"y":47,"v":8},{"x":50,"y":47,"v":5},{"x":51,"y":47,"v":7},{"x":52,"y":47,"v":12},{"x":53,"y":47,"v":12},{"x":54,"y":47,"v":12},{"x":55,"y":47,"v":14},{"x":56,"y":47,"v":15},{"x":57,"y":47,"v":17},{"x":58,"y":47,"v":17},{"x":59,"y":47,"v":18},{"x":60,"y":47,"v":18},{"x":61,"y":47,"v":18},{"x":62,"y":47,"v":18},{"x":63,"y":47,"v":18},{"x":64,"y":47,"v":18},{"x":65,"y":47,"v":15},{"x":66,"y":47,"v":15},{"x":67,"y":47,"v":18},{"x":68,"y":47,"v":18},
{"x":1,"y":46,"v":18},{"x":2,"y":46,"v":18},{"x":3,"y":46,"v":15},{"x":4,"y":46,"v":14},{"x":5,"y":46,"v":17},{"x":6,"y":46,"v":15},{"x":7,"y":46,"v":12},{"x":8,"y":46,"v":12},{"x":9,"y":46,"v":14},{"x":10,"y":46,"v":13},{"x":11,"y":46,"v":8},{"x":12,"y":46,"v":13},{"x":13,"y":46,"v":14},{"x":14,"y":46,"v":12},{"x":15,"y":46,"v":12},{"x":16,"y":46,"v":14},{"x":17,"y":46,"v":14},{"x":18,"y":46,"v":13},{"x":19,"y":46,"v":14},{"x":20,"y":46,"v":17},{"x":21,"y":46,"v":15},{"x":22,"y":46,"v":13},{"x":23,"y":46,"v":18},{"x":24,"y":46,"v":18},{"x":25,"y":46,"v":15},{"x":26,"y":46,"v":18},{"x":27,"y":46,"v":15},{"x":31,"y":46,"v":18},{"x":32,"y":46,"v":18},{"x":33,"y":46,"v":18},{"x":34,"y":46,"v":18},{"x":35,"y":46,"v":17},{"x":36,"y":46,"v":15},{"x":37,"y":46,"v":14},{"x":38,"y":46,"v":13},{"x":39,"y":46,"v":9},{"x":40,"y":46,"v":9},{"x":41,"y":46,"v":9},{"x":42,"y":46,"v":7},{"x":43,"y":46,"v":5},{"x":44,"y":46,"v":8},{"x":45,"y":46,"v":1},{"x":46,"y":46,"v":1},{"x":47,"y":46,"v":1},{"x":48,"y":46,"v":8},{"x":49,"y":46,"v":5},{"x":50,"y":46,"v":7},{"x":51,"y":46,"v":9},{"x":52,"y":46,"v":9},{"x":53,"y":46,"v":9},{"x":54,"y":46,"v":12},{"x":55,"y":46,"v":14},{"x":56,"y":46,"v":15},{"x":57,"y":46,"v":18},{"x":58,"y":46,"v":18},{"x":59,"y":46,"v":18},{"x":61,"y":46,"v":18},{"x":62,"y":46,"v":18},{"x":63,"y":46,"v":18},{"x":64,"y":46,"v":18},{"x":65,"y":46,"v":18},{"x":66,"y":46,"v":18},{"x":67,"y":46,"v":18},
{"x":1,"y":45,"v":18},{"x":2,"y":45,"v":18},{"x":3,"y":45,"v":15},{"x":4,"y":45,"v":14},{"x":5,"y":45,"v":15},{"x":6,"y":45,"v":14},{"x":7,"y":45,"v":9},{"x":8,"y":45,"v":9},{"x":9,"y":45,"v":12},{"x":10,"y":45,"v":10},{"x":11,"y":45,"v":5},{"x":12,"y":45,"v":8},{"x":13,"y":45,"v":10},{"x":14,"y":45,"v":8},{"x":15,"y":45,"v":4},{"x":16,"y":45,"v":10},{"x":17,"y":45,"v":10},{"x":18,"y":45,"v":8},{"x":19,"y":45,"v":10},{"x":20,"y":45,"v":13},{"x":21,"y":45,"v":13},{"x":22,"y":45,"v":13},{"x":23,"y":45,"v":14},{"x":24,"y":45,"v":17},{"x":25,"y":45,"v":15},{"x":26,"y":45,"v":18},{"x":27,"y":45,"v":18},{"x":28,"y":45,"v":18},{"x":29,"y":45,"v":18},{"x":30,"y":45,"v":18},{"x":31,"y":45,"v":18},{"x":32,"y":45,"v":17},{"x":33,"y":45,"v":18},{"x":34,"y":45,"v":17},{"x":35,"y":45,"v":15},{"x":36,"y":45,"v":15},{"x":37,"y":45,"v":13},{"x":38,"y":45,"v":9},{"x":39,"y":45,"v":9},{"x":40,"y":45,"v":9},{"x":41,"y":45,"v":7},{"x":42,"y":45,"v":5},{"x":43,"y":45,"v":8},{"x":44,"y":45,"v":1},{"x":45,"y":45,"v":1},{"x":46,"y":45,"v":1},{"x":47,"y":45,"v":8},{"x":48,"y":45,"v":5},{"x":49,"y":45,"v":7},{"x":50,"y":45,"v":9},{"x":51,"y":45,"v":9},{"x":52,"y":45,"v":9},{"x":53,"y":45,"v":13},{"x":54,"y":45,"v":14},{"x":55,"y":45,"v":14},{"x":56,"y":45,"v":14},{"x":57,"y":45,"v":18},{"x":58,"y":45,"v":18},{"x":62,"y":45,"v":18},{"x":63,"y":45,"v":18},{"x":64,"y":45,"v":18},{"x":65,"y":45,"v":17},{"x":66,"y":45,"v":18},{"x":67,"y":45,"v":18},{"x":68,"y":45,"v":18},
{"x":3,"y":44,"v":18},{"x":4,"y":44,"v":18},{"x":5,"y":44,"v":18},{"x":6,"y":44,"v":18},{"x":7,"y":44,"v":14},{"x":8,"y":44,"v":14},{"x":9,"y":44,"v":15},{"x":10,"y":44,"v":14},{"x":11,"y":44,"v":8},{"x":12,"y":44,"v":10},{"x":13,"y":44,"v":10},{"x":14,"y":44,"v":7},{"x":15,"y":44,"v":8},{"x":16,"y":44,"v":10},{"x":17,"y":44,"v":8},{"x":18,"y":44,"v":5},{"x":19,"y":44,"v":8},{"x":20,"y":44,"v":13},{"x":21,"y":44,"v":13},{"x":22,"y":44,"v":12},{"x":23,"y":44,"v":14},{"x":24,"y":44,"v":15},{"x":25,"y":44,"v":14},{"x":26,"y":44,"v":14},{"x":27,"y":44,"v":17},{"x":28,"y":44,"v":18},{"x":29,"y":44,"v":15},{"x":31,"y":44,"v":18},{"x":32,"y":44,"v":15},{"x":33,"y":44,"v":17},{"x":34,"y":44,"v":15},{"x":35,"y":44,"v":15},{"x":36,"y":44,"v":13},{"x":37,"y":44,"v":9},{"x":38,"y":44,"v":9},{"x":39,"y":44,"v":9},{"x":40,"y":44,"v":7},{"x":41,"y":44,"v":5},{"x":42,"y":44,"v":8},{"x":43,"y":44,"v":1},{"x":44,"y":44,"v":1},{"x":45,"y":44,"v":1},{"x":46,"y":44,"v":8},{"x":47,"y":44,"v":5},{"x":48,"y":44,"v":7},{"x":49,"y":44,"v":9},{"x":50,"y":44,"v":9},{"x":51,"y":44,"v":9},{"x":52,"y":44,"v":13},{"x":53,"y":44,"v":14},{"x":54,"y":44,"v":14},{"x":55,"y":44,"v":15},{"x":56,"y":44,"v":18},{"x":63,"y":44,"v":18},{"x":64,"y":44,"v":18},{"x":65,"y":44,"v":18},{"x":66,"y":44,"v":18},{"x":67,"y":44,"v":18},{"x":68,"y":44,"v":18},
{"x":4,"y":43,"v":18},{"x":7,"y":43,"v":17},{"x":8,"y":43,"v":15},{"x":9,"y":43,"v":19},{"x":10,"y":43,"v":17},{"x":11,"y":43,"v":12},{"x":12,"y":43,"v":13},{"x":13,"y":43,"v":15},{"x":14,"y":43,"v":13},{"x":15,"y":43,"v":8},{"x":16,"y":43,"v":13},{"x":17,"y":43,"v":15},{"x":18,"y":43,"v":8},{"x":19,"y":43,"v":13},{"x":20,"y":43,"v":14},{"x":21,"y":43,"v":14},{"x":22,"y":43,"v":8},{"x":23,"y":43,"v":14},{"x":24,"y":43,"v":15},{"x":25,"y":43,"v":15},{"x":26,"y":43,"v":18},{"x":27,"y":43,"v":18},{"x":29,"y":43,"v":18},{"x":31,"y":43,"v":18},{"x":32,"y":43,"v":14},{"x":33,"y":43,"v":14},{"x":34,"y":43,"v":14},{"x":35,"y":43,"v":13},{"x":36,"y":43,"v":9},{"x":37,"y":43,"v":9},{"x":38,"y":43,"v":9},{"x":39,"y":43,"v":7},{"x":40,"y":43,"v":5},{"x":41,"y":43,"v":8},{"x":42,"y":43,"v":1},{"x":43,"y":43,"v":1},{"x":44,"y":43,"v":1},{"x":45,"y":43,"v":8},{"x":46,"y":43,"v":5},{"x":47,"y":43,"v":7},{"x":48,"y":43,"v":9},{"x":49,"y":43,"v":9},{"x":50,"y":43,"v":9},{"x":51,"y":43,"v":12},{"x":52,"y":43,"v":14},{"x":53,"y":43,"v":14},{"x":54,"y":43,"v":15},{"x":55,"y":43,"v":18},{"x":65,"y":43,"v":18},
{"x":3,"y":42,"v":18},{"x":4,"y":42,"v":17},{"x":5,"y":42,"v":18},{"x":6,"y":42,"v":18},{"x":7,"y":42,"v":14},{"x":8,"y":42,"v":14},{"x":9,"y":42,"v":14},{"x":10,"y":42,"v":14},{"x":11,"y":42,"v":10},{"x":12,"y":42,"v":12},{"x":13,"y":42,"v":13},{"x":14,"y":42,"v":12},{"x":15,"y":42,"v":8},{"x":16,"y":42,"v":12},{"x":17,"y":42,"v":13},{"x":18,"y":42,"v":8},{"x":19,"y":42,"v":12},{"x":20,"y":42,"v":14},{"x":21,"y":42,"v":14},{"x":22,"y":42,"v":12},{"x":23,"y":42,"v":14},{"x":24,"y":42,"v":18},{"x":25,"y":42,"v":17},{"x":26,"y":42,"v":17},{"x":27,"y":42,"v":14},{"x":29,"y":42,"v":18},{"x":30,"y":42,"v":18},{"x":31,"y":42,"v":18},{"x":32,"y":42,"v":15},{"x":33,"y":42,"v":14},{"x":34,"y":42,"v":13},{"x":35,"y":42,"v":9},{"x":36,"y":42,"v":9},{"x":37,"y":42,"v":9},{"x":38,"y":42,"v":7},{"x":39,"y":42,"v":5},{"x":40,"y":42,"v":8},{"x":41,"y":42,"v":1},{"x":42,"y":42,"v":1},{"x":43,"y":42,"v":1},{"x":44,"y":42,"v":8},{"x":45,"y":42,"v":5},{"x":46,"y":42,"v":7},{"x":47,"y":42,"v":9},{"x":48,"y":42,"v":9},{"x":49,"y":42,"v":9},{"x":50,"y":42,"v":12},{"x":51,"y":42,"v":14},{"x":52,"y":42,"v":14},{"x":53,"y":42,"v":15},{"x":54,"y":42,"v":18},{"x":65,"y":42,"v":18},
{"x":4,"y":41,"v":18},{"x":5,"y":41,"v":18},{"x":6,"y":41,"v":18},{"x":7,"y":41,"v":17},{"x":8,"y":41,"v":13},{"x":9,"y":41,"v":14},{"x":10,"y":41,"v":12},{"x":11,"y":41,"v":10},{"x":12,"y":41,"v":10},{"x":13,"y":41,"v":12},{"x":14,"y":41,"v":8},{"x":15,"y":41,"v":5},{"x":16,"y":41,"v":8},{"x":17,"y":41,"v":8},{"x":18,"y":41,"v":5},{"x":19,"y":41,"v":4},{"x":20,"y":41,"v":10},{"x":21,"y":41,"v":8},{"x":22,"y":41,"v":7},{"x":23,"y":41,"v":10},{"x":24,"y":41,"v":13},{"x":25,"y":41,"v":13},{"x":26,"y":41,"v":13},{"x":27,"y":41,"v":15},{"x":28,"y":41,"v":17},{"x":29,"y":41,"v":15},{"x":30,"y":41,"v":17},{"x":31,"y":41,"v":15},{"x":32,"y":41,"v":12},{"x":33,"y":41,"v":13},{"x":34,"y":41,"v":9},{"x":35,"y":41,"v":9},{"x":36,"y":41,"v":9},{"x":37,"y":41,"v":7},{"x":38,"y":41,"v":5},{"x":39,"y":41,"v":8},{"x":40,"y":41,"v":1},{"x":41,"y":41,"v":1},{"x":42,"y":41,"v":1},{"x":43,"y":41,"v":8},{"x":44,"y":41,"v":5},{"x":45,"y":41,"v":7},{"x":46,"y":41,"v":9},{"x":47,"y":41,"v":9},{"x":48,"y":41,"v":9},{"x":49,"y":41,"v":12},{"x":50,"y":41,"v":14},{"x":51,"y":41,"v":14},{"x":52,"y":41,"v":15},{"x":53,"y":41,"v":18},{"x":65,"y":41,"v":18},{"x":66,"y":41,"v":18},{"x":67,"y":41,"v":18},{"x":68,"y":41,"v":18},
{"x":7,"y":40,"v":18},{"x":8,"y":40,"v":18},{"x":9,"y":40,"v":18},{"x":10,"y":40,"v":18},{"x":11,"y":40,"v":13},{"x":12,"y":40,"v":14},{"x":13,"y":40,"v":17},{"x":14,"y":40,"v":13},{"x":15,"y":40,"v":12},{"x":16,"y":40,"v":13},{"x":17,"y":40,"v":10},{"x":18,"y":40,"v":7},{"x":19,"y":40,"v":7},{"x":20,"y":40,"v":10},{"x":21,"y":40,"v":8},{"x":22,"y":40,"v":5},{"x":23,"y":40,"v":10},{"x":24,"y":40,"v":12},{"x":25,"y":40,"v":9},{"x":26,"y":40,"v":9},{"x":27,"y":40,"v":14},{"x":28,"y":40,"v":14},{"x":29,"y":40,"v":15},{"x":31,"y":40,"v":14},{"x":32,"y":40,"v":9},{"x":33,"y":40,"v":9},{"x":34,"y":40,"v":9},{"x":35,"y":40,"v":9},{"x":36,"y":40,"v":7},{"x":37,"y":40,"v":5},{"x":38,"y":40,"v":8},{"x":39,"y":40,"v":1},{"x":40,"y":40,"v":1},{"x":41,"y":40,"v":1},{"x":42,"y":40,"v":8},{"x":43,"y":40,"v":5},{"x":44,"y":40,"v":7},{"x":45,"y":40,"v":9},{"x":46,"y":40,"v":9},{"x":47,"y":40,"v":9},{"x":48,"y":40,"v":13},{"x":49,"y":40,"v":14},{"x":50,"y":40,"v":14},{"x":51,"y":40,"v":15},{"x":52,"y":40,"v":18},{"x":65,"y":40,"v":18},
{"x":7,"y":39,"v":18},{"x":8,"y":39,"v":17},{"x":10,"y":39,"v":18},{"x":11,"y":39,"v":13},{"x":12,"y":39,"v":14},{"x":13,"y":39,"v":19},{"x":14,"y":39,"v":14},{"x":15,"y":39,"v":12},{"x":16,"y":39,"v":15},{"x":17,"y":39,"v":15},{"x":18,"y":39,"v":12},{"x":19,"y":39,"v":12},{"x":20,"y":39,"v":15},{"x":21,"y":39,"v":14},{"x":22,"y":39,"v":12},{"x":23,"y":39,"v":13},{"x":24,"y":39,"v":17},{"x":25,"y":39,"v":15},{"x":26,"y":39,"v":14},{"x":27,"y":39,"v":17},{"x":28,"y":39,"v":17},{"x":29,"y":39,"v":15},{"x":30,"y":39,"v":17},{"x":31,"y":39,"v":15},{"x":32,"y":39,"v":10},{"x":33,"y":39,"v":9},{"x":34,"y":39,"v":10},{"x":35,"y":39,"v":7},{"x":36,"y":39,"v":5},{"x":37,"y":39,"v":8},{"x":38,"y":39,"v":1},{"x":39,"y":39,"v":1},{"x":40,"y":39,"v":1},{"x":41,"y":39,"v":8},{"x":42,"y":39,"v":5},{"x":43,"y":39,"v":7},{"x":44,"y":39,"v":9},{"x":45,"y":39,"v":9},{"x":46,"y":39,"v":9},{"x":47,"y":39,"v":13},{"x":48,"y":39,"v":14},{"x":49,"y":39,"v":14},{"x":50,"y":39,"v":15},{"x":51,"y":39,"v":18},
{"x":7,"y":38,"v":18},{"x":8,"y":38,"v":17},{"x":9,"y":38,"v":17},{"x":10,"y":38,"v":18},{"x":11,"y":38,"v":13},{"x":12,"y":38,"v":12},{"x":13,"y":38,"v":14},{"x":14,"y":38,"v":14},{"x":15,"y":38,"v":8},{"x":16,"y":38,"v":12},{"x":17,"y":38,"v":13},{"x":18,"y":38,"v":10},{"x":19,"y":38,"v":8},{"x":20,"y":38,"v":13},{"x":21,"y":38,"v":13},{"x":22,"y":38,"v":12},{"x":23,"y":38,"v":13},{"x":24,"y":38,"v":17},{"x":25,"y":38,"v":17},{"x":26,"y":38,"v":14},{"x":27,"y":38,"v":12},{"x":28,"y":38,"v":17},{"x":29,"y":38,"v":15},{"x":30,"y":38,"v":17},{"x":31,"y":38,"v":15},{"x":32,"y":38,"v":9},{"x":33,"y":38,"v":9},{"x":34,"y":38,"v":7},{"x":35,"y":38,"v":5},{"x":36,"y":38,"v":8},{"x":37,"y":38,"v":1},{"x":38,"y":38,"v":1},{"x":39,"y":38,"v":1},{"x":40,"y":38,"v":8},{"x":41,"y":38,"v":5},{"x":42,"y":38,"v":7},{"x":43,"y":38,"v":9},{"x":44,"y":38,"v":9},{"x":45,"y":38,"v":9},{"x":46,"y":38,"v":13},{"x":47,"y":38,"v":14},{"x":48,"y":38,"v":15},{"x":49,"y":38,"v":15},{"x":50,"y":38,"v":18},{"x":65,"y":38,"v":18},
{"x":8,"y":37,"v":18},{"x":9,"y":37,"v":18},{"x":10,"y":37,"v":18},{"x":11,"y":37,"v":14},{"x":12,"y":37,"v":14},{"x":13,"y":37,"v":14},{"x":14,"y":37,"v":13},{"x":15,"y":37,"v":12},{"x":16,"y":37,"v":12},{"x":17,"y":37,"v":13},{"x":18,"y":37,"v":8},{"x":19,"y":37,"v":5},{"x":20,"y":37,"v":10},{"x":21,"y":37,"v":10},{"x":22,"y":37,"v":7},{"x":23,"y":37,"v":7},{"x":24,"y":37,"v":12},{"x":25,"y":37,"v":12},{"x":26,"y":37,"v":12},{"x":27,"y":37,"v":8},{"x":28,"y":37,"v":13},{"x":29,"y":37,"v":10},{"x":30,"y":37,"v":14},{"x":31,"y":37,"v":12},{"x":32,"y":37,"v":5},{"x":33,"y":37,"v":7},{"x":34,"y":37,"v":5},{"x":35,"y":37,"v":8},{"x":36,"y":37,"v":1},{"x":37,"y":37,"v":1},{"x":38,"y":37,"v":1},{"x":39,"y":37,"v":8},{"x":40,"y":37,"v":5},{"x":41,"y":37,"v":7},{"x":42,"y":37,"v":9},{"x":43,"y":37,"v":9},{"x":44,"y":37,"v":9},{"x":45,"y":37,"v":13},{"x":46,"y":37,"v":15},{"x":47,"y":37,"v":14},{"x":48,"y":37,"v":17},{"x":49,"y":37,"v":18},{"x":65,"y":37,"v":18},
{"x":11,"y":36,"v":18},{"x":12,"y":36,"v":18},{"x":14,"y":36,"v":18},{"x":15,"y":36,"v":13},{"x":16,"y":36,"v":14},{"x":17,"y":36,"v":17},{"x":18,"y":36,"v":12},{"x":19,"y":36,"v":12},{"x":20,"y":36,"v":14},{"x":21,"y":36,"v":15},{"x":22,"y":36,"v":8},{"x":23,"y":36,"v":12},{"x":24,"y":36,"v":14},{"x":25,"y":36,"v":13},{"x":26,"y":36,"v":12},{"x":27,"y":36,"v":13},{"x":28,"y":36,"v":13},{"x":29,"y":36,"v":15},{"x":30,"y":36,"v":14},{"x":31,"y":36,"v":10},{"x":32,"y":36,"v":8},{"x":33,"y":36,"v":4},{"x":34,"y":36,"v":8},{"x":35,"y":36,"v":1},{"x":36,"y":36,"v":1},{"x":37,"y":36,"v":1},{"x":38,"y":36,"v":8},{"x":39,"y":36,"v":5},{"x":40,"y":36,"v":7},{"x":41,"y":36,"v":9},{"x":42,"y":36,"v":9},{"x":43,"y":36,"v":9},{"x":44,"y":36,"v":14},{"x":45,"y":36,"v":15},{"x":46,"y":36,"v":15},{"x":47,"y":36,"v":17},{"x":48,"y":36,"v":18},
{"x":8,"y":35,"v":18},{"x":11,"y":35,"v":18},{"x":12,"y":35,"v":17},{"x":13,"y":35,"v":18},{"x":14,"y":35,"v":18},{"x":15,"y":35,"v":14},{"x":16,"y":35,"v":15},{"x":17,"y":35,"v":19},{"x":18,"y":35,"v":14},{"x":19,"y":35,"v":12},{"x":20,"y":35,"v":18},{"x":21,"y":35,"v":17},{"x":22,"y":35,"v":13},{"x":23,"y":35,"v":13},{"x":24,"y":35,"v":19},{"x":25,"y":35,"v":17},{"x":26,"y":35,"v":14},{"x":27,"y":35,"v":17},{"x":28,"y":35,"v":17},{"x":29,"y":35,"v":15},{"x":30,"y":35,"v":15},{"x":31,"y":35,"v":13},{"x":32,"y":35,"v":12},{"x":33,"y":35,"v":5},{"x":34,"y":35,"v":1},{"x":35,"y":35,"v":1},{"x":36,"y":35,"v":1},{"x":37,"y":35,"v":8},{"x":38,"y":35,"v":5},{"x":39,"y":35,"v":7},{"x":40,"y":35,"v":9},{"x":41,"y":35,"v":9},{"x":42,"y":35,"v":9},{"x":43,"y":35,"v":13},{"x":44,"y":35,"v":15},{"x":45,"y":35,"v":15},{"x":46,"y":35,"v":17},{"x":47,"y":35,"v":19},
{"x":8,"y":34,"v":18},{"x":9,"y":34,"v":18},{"x":10,"y":34,"v":18},{"x":11,"y":34,"v":17},{"x":12,"y":34,"v":17},{"x":13,"y":34,"v":17},{"x":14,"y":34,"v":15},{"x":15,"y":34,"v":14},{"x":16,"y":34,"v":14},{"x":17,"y":34,"v":14},{"x":18,"y":34,"v":12},{"x":19,"y":34,"v":8},{"x":20,"y":34,"v":12},{"x":21,"y":34,"v":14},{"x":22,"y":34,"v":13},{"x":23,"y":34,"v":10},{"x":24,"y":34,"v":18},{"x":25,"y":34,"v":17},{"x":26,"y":34,"v":12},{"x":27,"y":34,"v":14},{"x":28,"y":34,"v":14},{"x":29,"y":34,"v":13},{"x":30,"y":34,"v":14},{"x":31,"y":34,"v":10},{"x":32,"y":34,"v":8},{"x":33,"y":34,"v":1},{"x":34,"y":34,"v":1},{"x":35,"y":34,"v":1},{"x":36,"y":34,"v":8},{"x":37,"y":34,"v":5},{"x":38,"y":34,"v":7},{"x":39,"y":34,"v":9},{"x":40,"y":34,"v":9},{"x":41,"y":34,"v":9},{"x":42,"y":34,"v":13},{"x":43,"y":34,"v":15},{"x":44,"y":34,"v":15},{"x":45,"y":34,"v":17},{"x":46,"y":34,"v":18},
{"x":11,"y":33,"v":18},{"x":13,"y":33,"v":18},{"x":14,"y":33,"v":17},{"x":15,"y":33,"v":15},{"x":16,"y":33,"v":15},{"x":17,"y":33,"v":19},{"x":18,"y":33,"v":13},{"x":19,"y":33,"v":13},{"x":20,"y":33,"v":15},{"x":21,"y":33,"v":14},{"x":22,"y":33,"v":14},{"x":23,"y":33,"v":14},{"x":24,"y":33,"v":18},{"x":25,"y":33,"v":14},{"x":26,"y":33,"v":15},{"x":28,"y":33,"v":13},{"x":29,"y":33,"v":10},{"x":30,"y":33,"v":10},{"x":31,"y":33,"v":8},{"x":32,"y":33,"v":1},{"x":33,"y":33,"v":1},{"x":34,"y":33,"v":1},{"x":35,"y":33,"v":5},{"x":36,"y":33,"v":4},{"x":37,"y":33,"v":7},{"x":38,"y":33,"v":9},{"x":39,"y":33,"v":9},{"x":40,"y":33,"v":10},{"x":41,"y":33,"v":13},{"x":42,"y":33,"v":15},{"x":43,"y":33,"v":15},{"x":44,"y":33,"v":18},{"x":45,"y":33,"v":18},{"x":46,"y":33,"v":18},
{"x":11,"y":32,"v":18},{"x":12,"y":32,"v":18},{"x":13,"y":32,"v":18},{"x":14,"y":32,"v":18},{"x":15,"y":32,"v":15},{"x":16,"y":32,"v":15},{"x":17,"y":32,"v":14},{"x":18,"y":32,"v":13},{"x":19,"y":32,"v":8},{"x":20,"y":32,"v":13},{"x":21,"y":32,"v":12},{"x":22,"y":32,"v":8},{"x":23,"y":32,"v":7},{"x":24,"y":32,"v":10},{"x":25,"y":32,"v":10},{"x":26,"y":32,"v":10},{"x":27,"y":32,"v":7},{"x":28,"y":32,"v":8},{"x":29,"y":32,"v":5},{"x":30,"y":32,"v":8},{"x":31,"y":32,"v":1},{"x":32,"y":32,"v":1},{"x":33,"y":32,"v":1},{"x":34,"y":32,"v":8},{"x":35,"y":32,"v":10},{"x":36,"y":32,"v":8},{"x":37,"y":32,"v":5},{"x":38,"y":32,"v":9},{"x":39,"y":32,"v":9},{"x":40,"y":32,"v":9},{"x":41,"y":32,"v":13},{"x":42,"y":32,"v":15},{"x":43,"y":32,"v":15},{"x":44,"y":32,"v":15},{"x":45,"y":32,"v":17},{"x":46,"y":32,"v":18},{"x":47,"y":32,"v":17},{"x":48,"y":32,"v":18},{"x":49,"y":32,"v":18},{"x":50,"y":32,"v":18},{"x":51,"y":32,"v":18},
{"x":15,"y":31,"v":19},{"x":16,"y":31,"v":18},{"x":17,"y":31,"v":18},{"x":18,"y":31,"v":18},{"x":19,"y":31,"v":14},{"x":20,"y":31,"v":15},{"x":21,"y":31,"v":14},{"x":22,"y":31,"v":12},{"x":23,"y":31,"v":10},{"x":24,"y":31,"v":13},{"x":25,"y":31,"v":13},{"x":26,"y":31,"v":13},{"x":27,"y":31,"v":9},{"x":28,"y":31,"v":5},{"x":29,"y":31,"v":8},{"x":30,"y":31,"v":1},{"x":31,"y":31,"v":1},{"x":32,"y":31,"v":1},{"x":33,"y":31,"v":8},{"x":34,"y":31,"v":10},{"x":35,"y":31,"v":14},{"x":36,"y":31,"v":12},{"x":37,"y":31,"v":12},{"x":38,"y":31,"v":15},{"x":39,"y":31,"v":17},{"x":40,"y":31,"v":15},{"x":41,"y":31,"v":15},{"x":42,"y":31,"v":18},{"x":43,"y":31,"v":18},{"x":44,"y":31,"v":18},{"x":45,"y":31,"v":18},{"x":46,"y":31,"v":18},{"x":47,"y":31,"v":18},
{"x":12,"y":30,"v":18},{"x":14,"y":30,"v":18},{"x":15,"y":30,"v":18},{"x":16,"y":30,"v":17},{"x":17,"y":30,"v":19},{"x":18,"y":30,"v":18},{"x":19,"y":30,"v":17},{"x":20,"y":30,"v":18},{"x":21,"y":30,"v":15},{"x":22,"y":30,"v":15},{"x":23,"y":30,"v":10},{"x":24,"y":30,"v":14},{"x":25,"y":30,"v":14},{"x":27,"y":30,"v":9},{"x":28,"y":30,"v":8},{"x":29,"y":30,"v":1},{"x":30,"y":30,"v":1},{"x":31,"y":30,"v":1},{"x":32,"y":30,"v":8},{"x":33,"y":30,"v":10},{"x":34,"y":30,"v":14},{"x":35,"y":30,"v":15},{"x":36,"y":30,"v":13},{"x":37,"y":30,"v":13},{"x":38,"y":30,"v":17},{"x":39,"y":30,"v":17},{"x":41,"y":30,"v":17},{"x":42,"y":30,"v":18},{"x":45,"y":30,"v":18},{"x":47,"y":30,"v":17},{"x":48,"y":30,"v":18},{"x":51,"y":30,"v":18},
{"x":11,"y":29,"v":18},{"x":12,"y":29,"v":18},{"x":13,"y":29,"v":18},{"x":14,"y":29,"v":18},{"x":15,"y":29,"v":17},{"x":16,"y":29,"v":13},{"x":17,"y":29,"v":14},{"x":18,"y":29,"v":12},{"x":19,"y":29,"v":8},{"x":20,"y":29,"v":12},{"x":21,"y":29,"v":12},{"x":22,"y":29,"v":8},{"x":23,"y":29,"v":7},{"x":24,"y":29,"v":10},{"x":25,"y":29,"v":10},{"x":26,"y":29,"v":10},{"x":27,"y":29,"v":5},{"x":28,"y":29,"v":1},{"x":29,"y":29,"v":1},{"x":30,"y":29,"v":1},{"x":31,"y":29,"v":8},{"x":32,"y":29,"v":5},{"x":33,"y":29,"v":10},{"x":34,"y":29,"v":13},{"x":35,"y":29,"v":14},{"x":36,"y":29,"v":14},{"x":37,"y":29,"v":10},{"x":38,"y":29,"v":15},{"x":39,"y":29,"v":15},{"x":40,"y":29,"v":15},{"x":41,"y":29,"v":15},{"x":42,"y":29,"v":18},{"x":43,"y":29,"v":18},{"x":44,"y":29,"v":15},{"x":45,"y":29,"v":18},{"x":48,"y":29,"v":15},{"x":49,"y":29,"v":15},{"x":50,"y":29,"v":14},{"x":51,"y":29,"v":18},{"x":52,"y":29,"v":18},{"x":53,"y":29,"v":18},{"x":54,"y":29,"v":18},
{"x":15,"y":28,"v":19},{"x":16,"y":28,"v":19},{"x":17,"y":28,"v":18},{"x":18,"y":28,"v":18},{"x":19,"y":28,"v":17},{"x":20,"y":28,"v":14},{"x":21,"y":28,"v":14},{"x":22,"y":28,"v":10},{"x":23,"y":28,"v":10},{"x":24,"y":28,"v":10},{"x":25,"y":28,"v":10},{"x":26,"y":28,"v":9},{"x":27,"y":28,"v":1},{"x":28,"y":28,"v":1},{"x":29,"y":28,"v":1},{"x":30,"y":28,"v":8},{"x":31,"y":28,"v":5},{"x":32,"y":28,"v":8},{"x":33,"y":28,"v":12},{"x":34,"y":28,"v":15},{"x":35,"y":28,"v":17},{"x":36,"y":28,"v":13},{"x":37,"y":28,"v":13},{"x":38,"y":28,"v":17},{"x":39,"y":28,"v":18},{"x":40,"y":28,"v":14},{"x":41,"y":28,"v":17},{"x":44,"y":28,"v":18},{"x":45,"y":28,"v":18},{"x":48,"y":28,"v":18},{"x":50,"y":28,"v":18},{"x":51,"y":28,"v":18},{"x":54,"y":28,"v":18},
{"x":13,"y":27,"v":18},{"x":14,"y":27,"v":18},{"x":15,"y":27,"v":18},{"x":16,"y":27,"v":17},{"x":17,"y":27,"v":15},{"x":18,"y":27,"v":15},{"x":19,"y":27,"v":14},{"x":20,"y":27,"v":13},{"x":21,"y":27,"v":13},{"x":22,"y":27,"v":12},{"x":23,"y":27,"v":7},{"x":24,"y":27,"v":8},{"x":25,"y":27,"v":8},{"x":26,"y":27,"v":1},{"x":27,"y":27,"v":1},{"x":28,"y":27,"v":1},{"x":29,"y":27,"v":5},{"x":30,"y":27,"v":9},{"x":31,"y":27,"v":9},{"x":32,"y":27,"v":7},{"x":34,"y":27,"v":15},{"x":35,"y":27,"v":17},{"x":36,"y":27,"v":13},{"x":37,"y":27,"v":8},{"x":38,"y":27,"v":13},{"x":39,"y":27,"v":17},{"x":40,"y":27,"v":14},{"x":41,"y":27,"v":15},{"x":42,"y":27,"v":14},{"x":43,"y":27,"v":18},{"x":44,"y":27,"v":17},{"x":45,"y":27,"v":18},{"x":46,"y":27,"v":15},{"x":48,"y":27,"v":18},{"x":49,"y":27,"v":18},{"x":50,"y":27,"v":18},{"x":51,"y":27,"v":18},{"x":53,"y":27,"v":18},{"x":54,"y":27,"v":18},
{"x":14,"y":26,"v":18},{"x":15,"y":26,"v":18},{"x":16,"y":26,"v":17},{"x":17,"y":26,"v":14},{"x":18,"y":26,"v":13},{"x":19,"y":26,"v":10},{"x":20,"y":26,"v":13},{"x":21,"y":26,"v":9},{"x":22,"y":26,"v":7},{"x":23,"y":26,"v":7},{"x":24,"y":26,"v":8},{"x":25,"y":26,"v":1},{"x":26,"y":26,"v":1},{"x":27,"y":26,"v":1},{"x":28,"y":26,"v":9},{"x":29,"y":26,"v":9},{"x":31,"y":26,"v":13},{"x":32,"y":26,"v":12},{"x":33,"y":26,"v":15},{"x":34,"y":26,"v":14},{"x":35,"y":26,"v":15},{"x":36,"y":26,"v":13},{"x":37,"y":26,"v":13},{"x":38,"y":26,"v":15},{"x":39,"y":26,"v":15},{"x":40,"y":26,"v":9},{"x":41,"y":26,"v":13},{"x":42,"y":26,"v":17},{"x":43,"y":26,"v":18},{"x":44,"y":26,"v":14},{"x":45,"y":26,"v":18},{"x":46,"y":26,"v":18},{"x":48,"y":26,"v":18},{"x":50,"y":26,"v":18},{"x":51,"y":26,"v":17},{"x":53,"y":26,"v":18},{"x":54,"y":26,"v":18},
{"x":13,"y":25,"v":18},{"x":14,"y":25,"v":17},{"x":15,"y":25,"v":15},{"x":16,"y":25,"v":15},{"x":17,"y":25,"v":14},{"x":18,"y":25,"v":12},{"x":19,"y":25,"v":13},{"x":20,"y":25,"v":12},{"x":21,"y":25,"v":5},{"x":22,"y":25,"v":5},{"x":23,"y":25,"v":8},{"x":24,"y":25,"v":1},{"x":25,"y":25,"v":1},{"x":26,"y":25,"v":1},{"x":27,"y":25,"v":8},{"x":28,"y":25,"v":9},{"x":29,"y":25,"v":9},{"x":30,"y":25,"v":14},{"x":31,"y":25,"v":14},{"x":32,"y":25,"v":9},{"x":33,"y":25,"v":14},{"x":34,"y":25,"v":17},{"x":35,"y":25,"v":17},{"x":36,"y":25,"v":13},{"x":37,"y":25,"v":13},{"x":38,"y":25,"v":17},{"x":39,"y":25,"v":15},{"x":40,"y":25,"v":9},{"x":41,"y":25,"v":13},{"x":42,"y":25,"v":17},{"x":43,"y":25,"v":15},{"x":44,"y":25,"v":14},{"x":45,"y":25,"v":15},{"x":46,"y":25,"v":17},{"x":48,"y":25,"v":18},{"x":49,"y":25,"v":18},{"x":50,"y":25,"v":14},{"x":51,"y":25,"v":14},{"x":52,"y":25,"v":18},{"x":53,"y":25,"v":18},{"x":54,"y":25,"v":18},
{"x":12,"y":24,"v":18},{"x":13,"y":24,"v":17},{"x":14,"y":24,"v":15},{"x":15,"y":24,"v":14},{"x":16,"y":24,"v":13},{"x":17,"y":24,"v":9},{"x":18,"y":24,"v":12},{"x":19,"y":24,"v":10},{"x":20,"y":24,"v":7},{"x":21,"y":24,"v":5},{"x":22,"y":24,"v":8},{"x":23,"y":24,"v":1},{"x":24,"y":24,"v":1},{"x":25,"y":24,"v":1},{"x":26,"y":24,"v":8},{"x":27,"y":24,"v":8},{"x":28,"y":24,"v":9},{"x":29,"y":24,"v":9},{"x":30,"y":24,"v":14},{"x":31,"y":24,"v":14},{"x":32,"y":24,"v":9},{"x":33,"y":24,"v":18},{"x":34,"y":24,"v":18},{"x":35,"y":24,"v":19},{"x":36,"y":24,"v":14},{"x":37,"y":24,"v":12},{"x":38,"y":24,"v":17},{"x":39,"y":24,"v":17},{"x":40,"y":24,"v":12},{"x":41,"y":24,"v":12},{"x":42,"y":24,"v":18},{"x":43,"y":24,"v":15},{"x":44,"y":24,"v":14},{"x":45,"y":24,"v":17},{"x":46,"y":24,"v":18},{"x":47,"y":24,"v":18},{"x":48,"y":24,"v":18},{"x":52,"y":24,"v":18},{"x":53,"y":24,"v":13},{"x":55,"y":24,"v":14},{"x":56,"y":24,"v":18},{"x":57,"y":24,"v":18},{"x":58,"y":24,"v":18},
{"x":11,"y":23,"v":18},{"x":12,"y":23,"v":17},{"x":13,"y":23,"v":14},{"x":14,"y":23,"v":14},{"x":15,"y":23,"v":13},{"x":16,"y":23,"v":9},{"x":17,"y":23,"v":9},{"x":18,"y":23,"v":9},{"x":19,"y":23,"v":7},{"x":20,"y":23,"v":5},{"x":21,"y":23,"v":5},{"x":22,"y":23,"v":1},{"x":23,"y":23,"v":1},{"x":24,"y":23,"v":1},{"x":25,"y":23,"v":8},{"x":26,"y":23,"v":7},{"x":27,"y":23,"v":7},{"x":28,"y":23,"v":10},{"x":29,"y":23,"v":7},{"x":30,"y":23,"v":10},{"x":31,"y":23,"v":10},{"x":32,"y":23,"v":7},{"x":33,"y":23,"v":13},{"x":34,"y":23,"v":10},{"x":35,"y":23,"v":13},{"x":36,"y":23,"v":10},{"x":37,"y":23,"v":7},{"x":38,"y":23,"v":13},{"x":39,"y":23,"v":13},{"x":40,"y":23,"v":10},{"x":41,"y":23,"v":10},{"x":42,"y":23,"v":14},{"x":43,"y":23,"v":15},{"x":44,"y":23,"v":14},{"x":45,"y":23,"v":15},{"x":46,"y":23,"v":18},{"x":47,"y":23,"v":18},{"x":48,"y":23,"v":18},{"x":52,"y":23,"v":17},{"x":55,"y":23,"v":15},{"x":56,"y":23,"v":18},{"x":57,"y":23,"v":18},{"x":58,"y":23,"v":18},{"x":68,"y":23,"v":18},
{"x":10,"y":22,"v":19},{"x":11,"y":22,"v":17},{"x":12,"y":22,"v":15},{"x":13,"y":22,"v":15},{"x":14,"y":22,"v":13},{"x":15,"y":22,"v":9},{"x":16,"y":22,"v":9},{"x":17,"y":22,"v":9},{"x":18,"y":22,"v":7},{"x":19,"y":22,"v":5},{"x":20,"y":22,"v":8},{"x":21,"y":22,"v":1},{"x":22,"y":22,"v":1},{"x":23,"y":22,"v":1},{"x":24,"y":22,"v":8},{"x":25,"y":22,"v":5},{"x":26,"y":22,"v":7},{"x":27,"y":22,"v":10},{"x":28,"y":22,"v":10},{"x":29,"y":22,"v":8},{"x":30,"y":22,"v":14},{"x":31,"y":22,"v":12},{"x":32,"y":22,"v":8},{"x":33,"y":22,"v":13},{"x":34,"y":22,"v":12},{"x":35,"y":22,"v":13},{"x":36,"y":22,"v":8},{"x":37,"y":22,"v":7},{"x":38,"y":22,"v":10},{"x":39,"y":22,"v":10},{"x":40,"y":22,"v":5},{"x":41,"y":22,"v":7},{"x":42,"y":22,"v":10},{"x":43,"y":22,"v":8},{"x":44,"y":22,"v":10},{"x":45,"y":22,"v":13},{"x":46,"y":22,"v":13},{"x":47,"y":22,"v":14},{"x":48,"y":22,"v":14},{"x":49,"y":22,"v":17},{"x":50,"y":22,"v":18},{"x":51,"y":22,"v":18},{"x":52,"y":22,"v":18},{"x":53,"y":22,"v":15},{"x":55,"y":22,"v":18},{"x":67,"y":22,"v":18},{"x":68,"y":22,"v":18},
{"x":9,"y":21,"v":19},{"x":10,"y":21,"v":17},{"x":11,"y":21,"v":15},{"x":12,"y":21,"v":15},{"x":13,"y":21,"v":14},{"x":14,"y":21,"v":14},{"x":15,"y":21,"v":9},{"x":16,"y":21,"v":9},{"x":17,"y":21,"v":5},{"x":18,"y":21,"v":7},{"x":19,"y":21,"v":7},{"x":20,"y":21,"v":1},{"x":21,"y":21,"v":1},{"x":22,"y":21,"v":1},{"x":23,"y":21,"v":5},{"x":24,"y":21,"v":5},{"x":25,"y":21,"v":5},{"x":26,"y":21,"v":9},{"x":27,"y":21,"v":12},{"x":28,"y":21,"v":15},{"x":29,"y":21,"v":13},{"x":30,"y":21,"v":15},{"x":31,"y":21,"v":14},{"x":32,"y":21,"v":10},{"x":33,"y":21,"v":15},{"x":34,"y":21,"v":15},{"x":35,"y":21,"v":18},{"x":36,"y":21,"v":14},{"x":37,"y":21,"v":12},{"x":38,"y":21,"v":13},{"x":39,"y":21,"v":15},{"x":40,"y":21,"v":8},{"x":41,"y":21,"v":8},{"x":42,"y":21,"v":14},{"x":43,"y":21,"v":14},{"x":44,"y":21,"v":13},{"x":45,"y":21,"v":13},{"x":46,"y":21,"v":15},{"x":47,"y":21,"v":15},{"x":48,"y":21,"v":14},{"x":49,"y":21,"v":15},{"x":50,"y":21,"v":18},{"x":51,"y":21,"v":17},{"x":52,"y":21,"v":17},{"x":53,"y":21,"v":18},{"x":55,"y":21,"v":18},{"x":56,"y":21,"v":18},{"x":58,"y":21,"v":18},{"x":65,"y":21,"v":18},{"x":66,"y":21,"v":18},{"x":67,"y":21,"v":18},
{"x":8,"y":20,"v":19},{"x":9,"y":20,"v":17},{"x":10,"y":20,"v":15},{"x":11,"y":20,"v":15},{"x":12,"y":20,"v":13},{"x":13,"y":20,"v":9},{"x":14,"y":20,"v":9},{"x":15,"y":20,"v":9},{"x":16,"y":20,"v":7},{"x":17,"y":20,"v":5},{"x":18,"y":20,"v":8},{"x":19,"y":20,"v":1},{"x":20,"y":20,"v":1},{"x":21,"y":20,"v":1},{"x":22,"y":20,"v":8},{"x":23,"y":20,"v":5},{"x":24,"y":20,"v":7},{"x":25,"y":20,"v":9},{"x":26,"y":20,"v":10},{"x":27,"y":20,"v":10},{"x":28,"y":20,"v":15},{"x":29,"y":20,"v":13},{"x":30,"y":20,"v":17},{"x":31,"y":20,"v":15},{"x":32,"y":20,"v":12},{"x":33,"y":20,"v":15},{"x":34,"y":20,"v":13},{"x":35,"y":20,"v":17},{"x":36,"y":20,"v":14},{"x":37,"y":20,"v":12},{"x":38,"y":20,"v":14},{"x":39,"y":20,"v":17},{"x":40,"y":20,"v":12},{"x":41,"y":20,"v":10},{"x":42,"y":20,"v":14},{"x":43,"y":20,"v":14},{"x":44,"y":20,"v":13},{"x":45,"y":20,"v":13},{"x":46,"y":20,"v":18},{"x":47,"y":20,"v":18},{"x":48,"y":20,"v":15},{"x":49,"y":20,"v":18},{"x":51,"y":20,"v":18},{"x":56,"y":20,"v":18},{"x":57,"y":20,"v":18},{"x":58,"y":20,"v":18},{"x":64,"y":20,"v":18},{"x":65,"y":20,"v":18},{"x":66,"y":20,"v":18},
{"x":7,"y":19,"v":19},{"x":8,"y":19,"v":17},{"x":9,"y":19,"v":14},{"x":10,"y":19,"v":14},{"x":11,"y":19,"v":13},{"x":12,"y":19,"v":9},{"x":13,"y":19,"v":9},{"x":14,"y":19,"v":9},{"x":15,"y":19,"v":7},{"x":16,"y":19,"v":5},{"x":17,"y":19,"v":5},{"x":18,"y":19,"v":1},{"x":19,"y":19,"v":1},{"x":20,"y":19,"v":1},{"x":21,"y":19,"v":7},{"x":22,"y":19,"v":5},{"x":23,"y":19,"v":7},{"x":24,"y":19,"v":9},{"x":25,"y":19,"v":12},{"x":26,"y":19,"v":10},{"x":27,"y":19,"v":13},{"x":28,"y":19,"v":15},{"x":29,"y":19,"v":8},{"x":30,"y":19,"v":15},{"x":31,"y":19,"v":14},{"x":32,"y":19,"v":8},{"x":33,"y":19,"v":13},{"x":34,"y":19,"v":8},{"x":35,"y":19,"v":12},{"x":36,"y":19,"v":10},{"x":37,"y":19,"v":5},{"x":38,"y":19,"v":8},{"x":39,"y":19,"v":13},{"x":40,"y":19,"v":7},{"x":41,"y":19,"v":4},{"x":42,"y":19,"v":12},{"x":43,"y":19,"v":13},{"x":44,"y":19,"v":8},{"x":45,"y":19,"v":12},{"x":46,"y":19,"v":15},{"x":47,"y":19,"v":15},{"x":48,"y":19,"v":15},{"x":49,"y":19,"v":15},{"x":50,"y":19,"v":18},{"x":51,"y":19,"v":18},{"x":52,"y":19,"v":18},{"x":53,"y":19,"v":18},{"x":64,"y":19,"v":18},{"x":65,"y":19,"v":18},{"x":66,"y":19,"v":18},{"x":67,"y":19,"v":15},{"x":68,"y":19,"v":18},
{"x":6,"y":18,"v":19},{"x":7,"y":18,"v":18},{"x":8,"y":18,"v":15},{"x":9,"y":18,"v":15},{"x":10,"y":18,"v":13},{"x":11,"y":18,"v":9},{"x":12,"y":18,"v":9},{"x":13,"y":18,"v":9},{"x":14,"y":18,"v":7},{"x":15,"y":18,"v":5},{"x":16,"y":18,"v":8},{"x":17,"y":18,"v":1},{"x":18,"y":18,"v":1},{"x":19,"y":18,"v":1},{"x":20,"y":18,"v":8},{"x":21,"y":18,"v":7},{"x":22,"y":18,"v":7},{"x":23,"y":18,"v":10},{"x":24,"y":18,"v":13},{"x":25,"y":18,"v":10},{"x":26,"y":18,"v":13},{"x":27,"y":18,"v":15},{"x":28,"y":18,"v":17},{"x":29,"y":18,"v":13},{"x":30,"y":18,"v":17},{"x":31,"y":18,"v":17},{"x":32,"y":18,"v":13},{"x":33,"y":18,"v":15},{"x":34,"y":18,"v":14},{"x":35,"y":18,"v":15},{"x":36,"y":18,"v":14},{"x":37,"y":18,"v":8},{"x":38,"y":18,"v":10},{"x":39,"y":18,"v":13},{"x":40,"y":18,"v":7},{"x":41,"y":18,"v":5},{"x":42,"y":18,"v":8},{"x":43,"y":18,"v":8},{"x":44,"y":18,"v":5},{"x":45,"y":18,"v":8},{"x":46,"y":18,"v":13},{"x":47,"y":18,"v":13},{"x":48,"y":18,"v":10},{"x":49,"y":18,"v":12},{"x":50,"y":18,"v":15},{"x":51,"y":18,"v":14},{"x":52,"y":18,"v":14},{"x":53,"y":18,"v":18},{"x":54,"y":18,"v":18},{"x":55,"y":18,"v":18},{"x":64,"y":18,"v":18},{"x":65,"y":18,"v":17},{"x":66,"y":18,"v":17},{"x":67,"y":18,"v":14},{"x":68,"y":18,"v":18},
{"x":5,"y":17,"v":19},{"x":6,"y":17,"v":17},{"x":7,"y":17,"v":15},{"x":8,"y":17,"v":15},{"x":9,"y":17,"v":13},{"x":10,"y":17,"v":13},{"x":11,"y":17,"v":9},{"x":12,"y":17,"v":9},{"x":13,"y":17,"v":7},{"x":14,"y":17,"v":7},{"x":15,"y":17,"v":7},{"x":16,"y":17,"v":1},{"x":17,"y":17,"v":1},{"x":18,"y":17,"v":1},{"x":19,"y":17,"v":5},{"x":20,"y":17,"v":5},{"x":21,"y":17,"v":5},{"x":22,"y":17,"v":9},{"x":23,"y":17,"v":9},{"x":24,"y":17,"v":9},{"x":25,"y":17,"v":12},{"x":26,"y":17,"v":14},{"x":27,"y":17,"v":14},{"x":28,"y":17,"v":18},{"x":29,"y":17,"v":13},{"x":30,"y":17,"v":18},{"x":31,"y":17,"v":18},{"x":32,"y":17,"v":14},{"x":33,"y":17,"v":19},{"x":34,"y":17,"v":14},{"x":35,"y":17,"v":19},{"x":36,"y":17,"v":17},{"x":37,"y":17,"v":13},{"x":38,"y":17,"v":13},{"x":39,"y":17,"v":15},{"x":40,"y":17,"v":10},{"x":41,"y":17,"v":8},{"x":42,"y":17,"v":13},{"x":43,"y":17,"v":14},{"x":44,"y":17,"v":8},{"x":45,"y":17,"v":10},{"x":46,"y":17,"v":14},{"x":47,"y":17,"v":14},{"x":48,"y":17,"v":13},{"x":49,"y":17,"v":13},{"x":50,"y":17,"v":17},{"x":51,"y":17,"v":13},{"x":52,"y":17,"v":13},{"x":53,"y":17,"v":18},{"x":54,"y":17,"v":18},{"x":55,"y":17,"v":18},{"x":56,"y":17,"v":18},{"x":58,"y":17,"v":18},{"x":62,"y":17,"v":18},{"x":63,"y":17,"v":18},{"x":64,"y":17,"v":18},
{"x":3,"y":16,"v":19},{"x":4,"y":16,"v":19},{"x":5,"y":16,"v":18},{"x":6,"y":16,"v":15},{"x":7,"y":16,"v":15},{"x":8,"y":16,"v":13},{"x":9,"y":16,"v":9},{"x":10,"y":16,"v":9},{"x":11,"y":16,"v":9},{"x":12,"y":16,"v":5},{"x":13,"y":16,"v":5},{"x":14,"y":16,"v":8},{"x":15,"y":16,"v":1},{"x":16,"y":16,"v":1},{"x":17,"y":16,"v":1},{"x":18,"y":16,"v":8},{"x":19,"y":16,"v":5},{"x":20,"y":16,"v":7},{"x":21,"y":16,"v":9},{"x":22,"y":16,"v":9},{"x":23,"y":16,"v":9},{"x":24,"y":16,"v":13},{"x":25,"y":16,"v":14},{"x":26,"y":16,"v":17},{"x":27,"y":16,"v":17},{"x":28,"y":16,"v":19},{"x":29,"y":16,"v":13},{"x":30,"y":16,"v":17},{"x":31,"y":16,"v":19},{"x":32,"y":16,"v":14},{"x":33,"y":16,"v":15},{"x":34,"y":16,"v":14},{"x":35,"y":16,"v":14},{"x":36,"y":16,"v":14},{"x":37,"y":16,"v":12},{"x":38,"y":16,"v":12},{"x":39,"y":16,"v":15},{"x":40,"y":16,"v":13},{"x":41,"y":16,"v":8},{"x":42,"y":16,"v":13},{"x":43,"y":16,"v":13},{"x":44,"y":16,"v":12},{"x":45,"y":16,"v":12},{"x":46,"y":16,"v":14},{"x":47,"y":16,"v":13},{"x":48,"y":16,"v":13},{"x":49,"y":16,"v":12},{"x":50,"y":16,"v":17},{"x":51,"y":16,"v":19},{"x":52,"y":16,"v":14},{"x":53,"y":16,"v":18},{"x":54,"y":16,"v":18},{"x":55,"y":16,"v":18},{"x":56,"y":16,"v":18},{"x":62,"y":16,"v":18},{"x":63,"y":16,"v":18},{"x":64,"y":16,"v":17},
{"x":3,"y":15,"v":19},{"x":4,"y":15,"v":17},{"x":5,"y":15,"v":15},{"x":6,"y":15,"v":15},{"x":7,"y":15,"v":13},{"x":8,"y":15,"v":9},{"x":9,"y":15,"v":9},{"x":10,"y":15,"v":9},{"x":11,"y":15,"v":7},{"x":12,"y":15,"v":5},{"x":13,"y":15,"v":8},{"x":14,"y":15,"v":1},{"x":15,"y":15,"v":1},{"x":16,"y":15,"v":1},{"x":17,"y":15,"v":7},{"x":18,"y":15,"v":5},{"x":19,"y":15,"v":7},{"x":20,"y":15,"v":9},{"x":21,"y":15,"v":9},{"x":22,"y":15,"v":9},{"x":23,"y":15,"v":13},{"x":24,"y":15,"v":15},{"x":25,"y":15,"v":14},{"x":26,"y":15,"v":17},{"x":27,"y":15,"v":18},{"x":28,"y":15,"v":18},{"x":29,"y":15,"v":15},{"x":30,"y":15,"v":18},{"x":31,"y":15,"v":18},{"x":32,"y":15,"v":14},{"x":33,"y":15,"v":15},{"x":34,"y":15,"v":14},{"x":35,"y":15,"v":14},{"x":36,"y":15,"v":13},{"x":37,"y":15,"v":10},{"x":38,"y":15,"v":8},{"x":39,"y":15,"v":12},{"x":40,"y":15,"v":10},{"x":41,"y":15,"v":5},{"x":42,"y":15,"v":8},{"x":43,"y":15,"v":8},{"x":44,"y":15,"v":8},{"x":45,"y":15,"v":4},{"x":46,"y":15,"v":10},{"x":47,"y":15,"v":10},{"x":48,"y":15,"v":8},{"x":49,"y":15,"v":8},{"x":50,"y":15,"v":14},{"x":51,"y":15,"v":14},{"x":52,"y":15,"v":13},{"x":53,"y":15,"v":17},{"x":54,"y":15,"v":17},{"x":55,"y":15,"v":17},{"x":56,"y":15,"v":18},{"x":57,"y":15,"v":18},{"x":58,"y":15,"v":18},{"x":61,"y":15,"v":18},{"x":62,"y":15,"v":18},{"x":63,"y":15,"v":18},{"x":64,"y":15,"v":18},{"x":65,"y":15,"v":14},{"x":66,"y":15,"v":18},{"x":67,"y":15,"v":18},{"x":68,"y":15,"v":15},{"x":69,"y":15,"v":18},
{"x":1,"y":14,"v":19},{"x":2,"y":14,"v":19},{"x":3,"y":14,"v":18},{"x":4,"y":14,"v":15},{"x":5,"y":14,"v":15},{"x":6,"y":14,"v":14},{"x":7,"y":14,"v":9},{"x":8,"y":14,"v":9},{"x":9,"y":14,"v":9},{"x":10,"y":14,"v":7},{"x":11,"y":14,"v":5},{"x":12,"y":14,"v":5},{"x":13,"y":14,"v":1},{"x":14,"y":14,"v":1},{"x":15,"y":14,"v":1},{"x":16,"y":14,"v":8},{"x":17,"y":14,"v":7},{"x":18,"y":14,"v":7},{"x":19,"y":14,"v":9},{"x":20,"y":14,"v":9},{"x":21,"y":14,"v":13},{"x":22,"y":14,"v":13},{"x":23,"y":14,"v":15},{"x":24,"y":14,"v":15},{"x":25,"y":14,"v":15},{"x":26,"y":14,"v":18},{"x":27,"y":14,"v":18},{"x":29,"y":14,"v":18},{"x":30,"y":14,"v":18},{"x":32,"y":14,"v":18},{"x":33,"y":14,"v":18},{"x":34,"y":14,"v":17},{"x":35,"y":14,"v":18},{"x":36,"y":14,"v":17},{"x":37,"y":14,"v":13},{"x":38,"y":14,"v":14},{"x":39,"y":14,"v":14},{"x":40,"y":14,"v":13},{"x":41,"y":14,"v":8},{"x":42,"y":14,"v":12},{"x":43,"y":14,"v":12},{"x":44,"y":14,"v":7},{"x":45,"y":14,"v":8},{"x":46,"y":14,"v":10},{"x":47,"y":14,"v":8},{"x":48,"y":14,"v":5},{"x":49,"y":14,"v":8},{"x":50,"y":14,"v":12},{"x":51,"y":14,"v":10},{"x":52,"y":14,"v":8},{"x":53,"y":14,"v":12},{"x":54,"y":14,"v":13},{"x":55,"y":14,"v":13},{"x":56,"y":14,"v":13},{"x":57,"y":14,"v":18},{"x":58,"y":14,"v":18},{"x":59,"y":14,"v":18},{"x":60,"y":14,"v":18},{"x":61,"y":14,"v":18},{"x":62,"y":14,"v":18},{"x":63,"y":14,"v":18},{"x":64,"y":14,"v":17},{"x":66,"y":14,"v":17},{"x":68,"y":14,"v":17},{"x":69,"y":14,"v":17},
{"x":1,"y":13,"v":19},{"x":2,"y":13,"v":17},{"x":3,"y":13,"v":15},{"x":4,"y":13,"v":15},{"x":5,"y":13,"v":13},{"x":6,"y":13,"v":9},{"x":7,"y":13,"v":9},{"x":8,"y":13,"v":9},{"x":9,"y":13,"v":7},{"x":10,"y":13,"v":5},{"x":11,"y":13,"v":8},{"x":12,"y":13,"v":1},{"x":13,"y":13,"v":1},{"x":14,"y":13,"v":1},{"x":15,"y":13,"v":8},{"x":16,"y":13,"v":5},{"x":17,"y":13,"v":7},{"x":18,"y":13,"v":9},{"x":19,"y":13,"v":9},{"x":20,"y":13,"v":9},{"x":21,"y":13,"v":13},{"x":22,"y":13,"v":15},{"x":23,"y":13,"v":15},{"x":24,"y":13,"v":17},{"x":25,"y":13,"v":18},{"x":27,"y":13,"v":18},{"x":29,"y":13,"v":18},{"x":32,"y":13,"v":18},{"x":34,"y":13,"v":17},{"x":35,"y":13,"v":18},{"x":37,"y":13,"v":15},{"x":38,"y":13,"v":15},{"x":39,"y":13,"v":19},{"x":40,"y":13,"v":17},{"x":41,"y":13,"v":12},{"x":42,"y":13,"v":13},{"x":43,"y":13,"v":15},{"x":44,"y":13,"v":10},{"x":45,"y":13,"v":10},{"x":46,"y":13,"v":13},{"x":47,"y":13,"v":13},{"x":48,"y":13,"v":8},{"x":49,"y":13,"v":12},{"x":50,"y":13,"v":14},{"x":51,"y":13,"v":12},{"x":52,"y":13,"v":9},{"x":53,"y":13,"v":14},{"x":54,"y":13,"v":17},{"x":55,"y":13,"v":13},{"x":56,"y":13,"v":13},{"x":57,"y":13,"v":18},{"x":58,"y":13,"v":18},{"x":59,"y":13,"v":15},{"x":60,"y":13,"v":18},{"x":61,"y":13,"v":18},{"x":68,"y":13,"v":15},
{"x":1,"y":12,"v":17},{"x":2,"y":12,"v":15},{"x":3,"y":12,"v":15},{"x":4,"y":12,"v":13},{"x":5,"y":12,"v":13},{"x":6,"y":12,"v":9},{"x":7,"y":12,"v":9},{"x":8,"y":12,"v":7},{"x":9,"y":12,"v":7},{"x":10,"y":12,"v":7},{"x":11,"y":12,"v":1},{"x":12,"y":12,"v":1},{"x":13,"y":12,"v":1},{"x":14,"y":12,"v":5},{"x":15,"y":12,"v":5},{"x":16,"y":12,"v":5},{"x":17,"y":12,"v":9},{"x":18,"y":12,"v":9},{"x":19,"y":12,"v":9},{"x":20,"y":12,"v":13},{"x":21,"y":12,"v":14},{"x":22,"y":12,"v":15},{"x":23,"y":12,"v":17},{"x":24,"y":12,"v":19},{"x":29,"y":12,"v":18},{"x":30,"y":12,"v":18},{"x":32,"y":12,"v":17},{"x":33,"y":12,"v":18},{"x":34,"y":12,"v":17},{"x":35,"y":12,"v":17},{"x":36,"y":12,"v":18},{"x":37,"y":12,"v":15},{"x":38,"y":12,"v":12},{"x":39,"y":12,"v":15},{"x":40,"y":12,"v":14},{"x":41,"y":12,"v":10},{"x":42,"y":12,"v":13},{"x":43,"y":12,"v":13},{"x":44,"y":12,"v":12},{"x":45,"y":12,"v":8},{"x":46,"y":12,"v":12},{"x":47,"y":12,"v":13},{"x":48,"y":12,"v":8},{"x":49,"y":12,"v":10},{"x":50,"y":12,"v":14},{"x":51,"y":12,"v":12},{"x":52,"y":12,"v":9},{"x":53,"y":12,"v":13},{"x":54,"y":12,"v":17},{"x":55,"y":12,"v":14},{"x":56,"y":12,"v":14},{"x":57,"y":12,"v":18},{"x":58,"y":12,"v":18},{"x":59,"y":12,"v":18},{"x":60,"y":12,"v":18},{"x":61,"y":12,"v":18},{"x":62,"y":12,"v":18},{"x":63,"y":12,"v":18},{"x":64,"y":12,"v":14},{"x":66,"y":12,"v":18},{"x":67,"y":12,"v":18},{"x":68,"y":12,"v":19},
{"x":1,"y":11,"v":15},{"x":2,"y":11,"v":15},{"x":3,"y":11,"v":14},{"x":4,"y":11,"v":9},{"x":5,"y":11,"v":9},{"x":6,"y":11,"v":9},{"x":7,"y":11,"v":7},{"x":8,"y":11,"v":5},{"x":9,"y":11,"v":8},{"x":10,"y":11,"v":1},{"x":11,"y":11,"v":1},{"x":12,"y":11,"v":1},{"x":13,"y":11,"v":8},{"x":14,"y":11,"v":5},{"x":15,"y":11,"v":7},{"x":16,"y":11,"v":9},{"x":17,"y":11,"v":9},{"x":18,"y":11,"v":9},{"x":19,"y":11,"v":13},{"x":20,"y":11,"v":15},{"x":21,"y":11,"v":15},{"x":22,"y":11,"v":17},{"x":23,"y":11,"v":19},{"x":29,"y":11,"v":18},{"x":32,"y":11,"v":18},{"x":34,"y":11,"v":17},{"x":35,"y":11,"v":18},{"x":36,"y":11,"v":18},{"x":37,"y":11,"v":17},{"x":38,"y":11,"v":14},{"x":39,"y":11,"v":14},{"x":40,"y":11,"v":13},{"x":41,"y":11,"v":10},{"x":42,"y":11,"v":10},{"x":43,"y":11,"v":12},{"x":44,"y":11,"v":8},{"x":45,"y":11,"v":5},{"x":46,"y":11,"v":8},{"x":47,"y":11,"v":8},{"x":48,"y":11,"v":5},{"x":49,"y":11,"v":5},{"x":50,"y":11,"v":8},{"x":51,"y":11,"v":8},{"x":52,"y":11,"v":5},{"x":53,"y":11,"v":8},{"x":54,"y":11,"v":12},{"x":55,"y":11,"v":12},{"x":56,"y":11,"v":12},{"x":57,"y":11,"v":14},{"x":58,"y":11,"v":17},{"x":59,"y":11,"v":18},{"x":60,"y":11,"v":18},{"x":61,"y":11,"v":18},{"x":62,"y":11,"v":18},{"x":63,"y":11,"v":17},{"x":64,"y":11,"v":14},{"x":65,"y":11,"v":13},{"x":66,"y":11,"v":13},{"x":68,"y":11,"v":17},{"x":69,"y":11,"v":17},{"x":70,"y":11,"v":19},
{"x":1,"y":10,"v":15},{"x":2,"y":10,"v":14},{"x":3,"y":10,"v":9},{"x":4,"y":10,"v":9},{"x":5,"y":10,"v":9},{"x":6,"y":10,"v":7},{"x":7,"y":10,"v":5},{"x":8,"y":10,"v":8},{"x":9,"y":10,"v":1},{"x":10,"y":10,"v":1},{"x":11,"y":10,"v":1},{"x":12,"y":10,"v":7},{"x":13,"y":10,"v":5},{"x":14,"y":10,"v":7},{"x":15,"y":10,"v":9},{"x":16,"y":10,"v":9},{"x":17,"y":10,"v":13},{"x":18,"y":10,"v":13},{"x":19,"y":10,"v":15},{"x":20,"y":10,"v":15},{"x":21,"y":10,"v":17},{"x":22,"y":10,"v":19},{"x":34,"y":10,"v":18},{"x":37,"y":10,"v":18},{"x":38,"y":10,"v":17},{"x":39,"y":10,"v":18},{"x":40,"y":10,"v":18},{"x":41,"y":10,"v":13},{"x":42,"y":10,"v":14},{"x":43,"y":10,"v":17},{"x":44,"y":10,"v":13},{"x":45,"y":10,"v":12},{"x":46,"y":10,"v":13},{"x":47,"y":10,"v":13},{"x":48,"y":10,"v":8},{"x":49,"y":10,"v":8},{"x":50,"y":10,"v":13},{"x":51,"y":10,"v":8},{"x":52,"y":10,"v":5},{"x":53,"y":10,"v":10},{"x":54,"y":10,"v":12},{"x":55,"y":10,"v":8},{"x":56,"y":10,"v":8},{"x":57,"y":10,"v":12},{"x":58,"y":10,"v":12},{"x":59,"y":10,"v":13},{"x":60,"y":10,"v":15},{"x":61,"y":10,"v":17},{"x":65,"y":10,"v":13},{"x":70,"y":10,"v":17},
{"x":1,"y":9,"v":14},{"x":2,"y":9,"v":9},{"x":3,"y":9,"v":9},{"x":4,"y":9,"v":9},{"x":5,"y":9,"v":7},{"x":6,"y":9,"v":5},{"x":7,"y":9,"v":8},{"x":8,"y":9,"v":1},{"x":9,"y":9,"v":1},{"x":10,"y":9,"v":1},{"x":11,"y":9,"v":8},{"x":12,"y":9,"v":7},{"x":13,"y":9,"v":7},{"x":14,"y":9,"v":9},{"x":15,"y":9,"v":9},{"x":16,"y":9,"v":9},{"x":17,"y":9,"v":13},{"x":18,"y":9,"v":15},{"x":19,"y":9,"v":15},{"x":20,"y":9,"v":17},{"x":21,"y":9,"v":19},{"x":34,"y":9,"v":18},{"x":37,"y":9,"v":18},{"x":38,"y":9,"v":17},{"x":40,"y":9,"v":18},{"x":41,"y":9,"v":14},{"x":42,"y":9,"v":14},{"x":43,"y":9,"v":19},{"x":44,"y":9,"v":14},{"x":45,"y":9,"v":12},{"x":46,"y":9,"v":14},{"x":47,"y":9,"v":17},{"x":48,"y":9,"v":10},{"x":49,"y":9,"v":10},{"x":50,"y":9,"v":15},{"x":51,"y":9,"v":14},{"x":52,"y":9,"v":8},{"x":53,"y":9,"v":14},{"x":54,"y":9,"v":17},{"x":55,"y":9,"v":13},{"x":56,"y":9,"v":13},{"x":57,"y":9,"v":14},{"x":58,"y":9,"v":17},{"x":59,"y":9,"v":17},{"x":60,"y":9,"v":19},{"x":61,"y":9,"v":18},{"x":62,"y":9,"v":17},{"x":68,"y":9,"v":10},{"x":69,"y":9,"v":18},{"x":70,"y":9,"v":18},
{"x":1,"y":8,"v":9},{"x":2,"y":8,"v":9},{"x":3,"y":8,"v":9},{"x":4,"y":8,"v":7},{"x":5,"y":8,"v":5},{"x":6,"y":8,"v":8},{"x":7,"y":8,"v":1},{"x":8,"y":8,"v":1},{"x":9,"y":8,"v":1},{"x":10,"y":8,"v":8},{"x":11,"y":8,"v":5},{"x":12,"y":8,"v":7},{"x":13,"y":8,"v":9},{"x":14,"y":8,"v":9},{"x":15,"y":8,"v":9},{"x":16,"y":8,"v":13},{"x":17,"y":8,"v":15},{"x":18,"y":8,"v":15},{"x":19,"y":8,"v":17},{"x":20,"y":8,"v":19},{"x":34,"y":8,"v":17},{"x":35,"y":8,"v":17},{"x":37,"y":8,"v":18},{"x":38,"y":8,"v":17},{"x":39,"y":8,"v":17},{"x":40,"y":8,"v":18},{"x":41,"y":8,"v":14},{"x":42,"y":8,"v":15},{"x":43,"y":8,"v":15},{"x":44,"y":8,"v":14},{"x":45,"y":8,"v":10},{"x":46,"y":8,"v":12},{"x":47,"y":8,"v":12},{"x":48,"y":8,"v":10},{"x":49,"y":8,"v":7},{"x":50,"y":8,"v":12},{"x":51,"y":8,"v":13},{"x":52,"y":8,"v":8},{"x":53,"y":8,"v":10},{"x":54,"y":8,"v":14},{"x":55,"y":8,"v":13},{"x":56,"y":8,"v":10},{"x":57,"y":8,"v":14},{"x":58,"y":8,"v":17},{"x":59,"y":8,"v":17},{"x":60,"y":8,"v":19},{"x":61,"y":8,"v":19},{"x":62,"y":8,"v":19},{"x":63,"y":8,"v":17},{"x":64,"y":8,"v":14},{"x":65,"y":8,"v":10},{"x":66,"y":8,"v":17},{"x":67,"y":8,"v":15},{"x":68,"y":8,"v":18},
{"x":1,"y":7,"v":9},{"x":2,"y":7,"v":9},{"x":3,"y":7,"v":7},{"x":4,"y":7,"v":5},{"x":5,"y":7,"v":8},{"x":6,"y":7,"v":1},{"x":7,"y":7,"v":1},{"x":8,"y":7,"v":1},{"x":9,"y":7,"v":8},{"x":10,"y":7,"v":5},{"x":11,"y":7,"v":7},{"x":12,"y":7,"v":9},{"x":13,"y":7,"v":9},{"x":14,"y":7,"v":9},{"x":15,"y":7,"v":13},{"x":16,"y":7,"v":14},{"x":17,"y":7,"v":14},{"x":18,"y":7,"v":17},{"x":19,"y":7,"v":19},{"x":38,"y":7,"v":18},{"x":39,"y":7,"v":18},{"x":40,"y":7,"v":18},{"x":41,"y":7,"v":17},{"x":42,"y":7,"v":15},{"x":43,"y":7,"v":17},{"x":44,"y":7,"v":13},{"x":45,"y":7,"v":9},{"x":46,"y":7,"v":10},{"x":47,"y":7,"v":12},{"x":48,"y":7,"v":8},{"x":49,"y":7,"v":7},{"x":50,"y":7,"v":10},{"x":51,"y":7,"v":10},{"x":52,"y":7,"v":5},{"x":53,"y":7,"v":5},{"x":54,"y":7,"v":12},{"x":55,"y":7,"v":8},{"x":56,"y":7,"v":5},{"x":57,"y":7,"v":10},{"x":58,"y":7,"v":12},{"x":59,"y":7,"v":15},{"x":60,"y":7,"v":13},{"x":61,"y":7,"v":18},{"x":62,"y":7,"v":14},{"x":63,"y":7,"v":14},{"x":64,"y":7,"v":14},{"x":65,"y":7,"v":8},{"x":66,"y":7,"v":13},{"x":67,"y":7,"v":14},{"x":68,"y":7,"v":12},{"x":69,"y":7,"v":13},
{"x":1,"y":6,"v":9},{"x":2,"y":6,"v":7},{"x":3,"y":6,"v":5},{"x":4,"y":6,"v":8},{"x":5,"y":6,"v":1},{"x":6,"y":6,"v":1},{"x":7,"y":6,"v":1},{"x":8,"y":6,"v":8},{"x":9,"y":6,"v":5},{"x":10,"y":6,"v":7},{"x":11,"y":6,"v":9},{"x":12,"y":6,"v":9},{"x":13,"y":6,"v":9},{"x":14,"y":6,"v":13},{"x":15,"y":6,"v":14},{"x":16,"y":6,"v":14},{"x":17,"y":6,"v":17},{"x":18,"y":6,"v":19},{"x":41,"y":6,"v":18},{"x":42,"y":6,"v":18},{"x":44,"y":6,"v":18},{"x":45,"y":6,"v":14},{"x":46,"y":6,"v":17},{"x":47,"y":6,"v":17},{"x":48,"y":6,"v":13},{"x":49,"y":6,"v":10},{"x":50,"y":6,"v":15},{"x":51,"y":6,"v":13},{"x":52,"y":6,"v":8},{"x":53,"y":6,"v":10},{"x":54,"y":6,"v":13},{"x":55,"y":6,"v":12},{"x":56,"y":6,"v":7},{"x":57,"y":6,"v":9},{"x":58,"y":6,"v":14},{"x":59,"y":6,"v":14},{"x":60,"y":6,"v":13},{"x":63,"y":6,"v":10},{"x":65,"y":6,"v":5},{"x":66,"y":6,"v":8},{"x":68,"y":6,"v":8},{"x":70,"y":6,"v":15},
{"x":1,"y":5,"v":7},{"x":2,"y":5,"v":5},{"x":3,"y":5,"v":8},{"x":4,"y":5,"v":1},{"x":5,"y":5,"v":1},{"x":6,"y":5,"v":1},{"x":7,"y":5,"v":8},{"x":8,"y":5,"v":5},{"x":9,"y":5,"v":7},{"x":10,"y":5,"v":9},{"x":11,"y":5,"v":9},{"x":12,"y":5,"v":12},{"x":13,"y":5,"v":13},{"x":14,"y":5,"v":14},{"x":15,"y":5,"v":14},{"x":16,"y":5,"v":17},{"x":17,"y":5,"v":19},{"x":41,"y":5,"v":18},{"x":42,"y":5,"v":18},{"x":44,"y":5,"v":18},{"x":45,"y":5,"v":15},{"x":46,"y":5,"v":18},{"x":47,"y":5,"v":19},{"x":48,"y":5,"v":15},{"x":49,"y":5,"v":12},{"x":50,"y":5,"v":17},{"x":51,"y":5,"v":17},{"x":52,"y":5,"v":13},{"x":53,"y":5,"v":13},{"x":54,"y":5,"v":17},{"x":55,"y":5,"v":14},{"x":56,"y":5,"v":12},{"x":57,"y":5,"v":15},{"x":58,"y":5,"v":15},{"x":59,"y":5,"v":14},{"x":60,"y":5,"v":17},{"x":61,"y":5,"v":17},{"x":65,"y":5,"v":8},{"x":66,"y":5,"v":8},{"x":67,"y":5,"v":7},{"x":68,"y":5,"v":7},
{"x":1,"y":4,"v":5},{"x":2,"y":4,"v":8},{"x":3,"y":4,"v":1},{"x":4,"y":4,"v":1},{"x":5,"y":4,"v":1},{"x":6,"y":4,"v":8},{"x":7,"y":4,"v":5},{"x":8,"y":4,"v":7},{"x":9,"y":4,"v":9},{"x":10,"y":4,"v":9},{"x":11,"y":4,"v":9},{"x":12,"y":4,"v":13},{"x":13,"y":4,"v":15},{"x":14,"y":4,"v":15},{"x":15,"y":4,"v":17},{"x":16,"y":4,"v":19},{"x":41,"y":4,"v":18},{"x":42,"y":4,"v":17},{"x":43,"y":4,"v":18},{"x":44,"y":4,"v":18},{"x":45,"y":4,"v":13},{"x":46,"y":4,"v":13},{"x":47,"y":4,"v":15},{"x":48,"y":4,"v":13},{"x":49,"y":4,"v":10},{"x":50,"y":4,"v":12},{"x":51,"y":4,"v":14},{"x":52,"y":4,"v":10},{"x":53,"y":4,"v":8},{"x":54,"y":4,"v":12},{"x":55,"y":4,"v":12},{"x":56,"y":4,"v":8},{"x":57,"y":4,"v":14},{"x":58,"y":4,"v":14},{"x":59,"y":4,"v":14},{"x":60,"y":4,"v":14},{"x":61,"y":4,"v":18},{"x":62,"y":4,"v":18},{"x":63,"y":4,"v":15},{"x":64,"y":4,"v":13},{"x":65,"y":4,"v":8},{"x":68,"y":4,"v":15},{"x":69,"y":4,"v":15},{"x":70,"y":4,"v":18},
{"x":1,"y":3,"v":5},{"x":2,"y":3,"v":1},{"x":3,"y":3,"v":1},{"x":4,"y":3,"v":1},{"x":5,"y":3,"v":8},{"x":6,"y":3,"v":5},{"x":7,"y":3,"v":7},{"x":8,"y":3,"v":9},{"x":9,"y":3,"v":9},{"x":10,"y":3,"v":9},{"x":11,"y":3,"v":13},{"x":12,"y":3,"v":15},{"x":13,"y":3,"v":15},{"x":14,"y":3,"v":17},{"x":15,"y":3,"v":19},{"x":16,"y":3,"v":19},{"x":42,"y":3,"v":18},{"x":44,"y":3,"v":18},{"x":45,"y":3,"v":17},{"x":46,"y":3,"v":17},{"x":47,"y":3,"v":17},{"x":48,"y":3,"v":13},{"x":49,"y":3,"v":12},{"x":50,"y":3,"v":12},{"x":51,"y":3,"v":12},{"x":52,"y":3,"v":10},{"x":53,"y":3,"v":8},{"x":54,"y":3,"v":13},{"x":55,"y":3,"v":10},{"x":56,"y":3,"v":5},{"x":57,"y":3,"v":8},{"x":58,"y":3,"v":9},{"x":59,"y":3,"v":9},{"x":60,"y":3,"v":13},{"x":61,"y":3,"v":14},{"x":62,"y":3,"v":13},{"x":63,"y":3,"v":14},{"x":65,"y":3,"v":9},{"x":66,"y":3,"v":9},{"x":67,"y":3,"v":9},{"x":68,"y":3,"v":9},
{"x":1,"y":2,"v":1},{"x":2,"y":2,"v":1},{"x":3,"y":2,"v":1},{"x":4,"y":2,"v":8},{"x":5,"y":2,"v":5},{"x":6,"y":2,"v":7},{"x":7,"y":2,"v":9},{"x":8,"y":2,"v":9},{"x":9,"y":2,"v":9},{"x":10,"y":2,"v":13},{"x":11,"y":2,"v":15},{"x":12,"y":2,"v":15},{"x":13,"y":2,"v":17},{"x":14,"y":2,"v":19},{"x":45,"y":2,"v":18},{"x":46,"y":2,"v":18},{"x":48,"y":2,"v":18},{"x":49,"y":2,"v":15},{"x":50,"y":2,"v":19},{"x":51,"y":2,"v":19},{"x":52,"y":2,"v":13},{"x":53,"y":2,"v":13},{"x":54,"y":2,"v":18},{"x":55,"y":2,"v":15},{"x":56,"y":2,"v":10},{"x":57,"y":2,"v":14},{"x":58,"y":2,"v":13},{"x":59,"y":2,"v":13},{"x":60,"y":2,"v":13},{"x":61,"y":2,"v":14},{"x":62,"y":2,"v":13},{"x":63,"y":2,"v":13},{"x":64,"y":2,"v":13},{"x":65,"y":2,"v":14},{"x":66,"y":2,"v":8},{"x":68,"y":2,"v":17},{"x":69,"y":2,"v":17},
{"x":1,"y":1,"v":1},{"x":2,"y":1,"v":1},{"x":3,"y":1,"v":5},{"x":4,"y":1,"v":5},{"x":5,"y":1,"v":7},{"x":6,"y":1,"v":9},{"x":7,"y":1,"v":9},{"x":8,"y":1,"v":9},{"x":9,"y":1,"v":13},{"x":10,"y":1,"v":15},{"x":11,"y":1,"v":15},{"x":12,"y":1,"v":17},{"x":13,"y":1,"v":18},{"x":14,"y":1,"v":18},{"x":45,"y":1,"v":18},{"x":46,"y":1,"v":18},{"x":48,"y":1,"v":18},{"x":49,"y":1,"v":17},{"x":50,"y":1,"v":19},{"x":51,"y":1,"v":19},{"x":52,"y":1,"v":14},{"x":53,"y":1,"v":13},{"x":54,"y":1,"v":19},{"x":55,"y":1,"v":17},{"x":56,"y":1,"v":13},{"x":58,"y":1,"v":14},{"x":59,"y":1,"v":14},{"x":60,"y":1,"v":14},{"x":61,"y":1,"v":17},{"x":66,"y":1,"v":15},{"x":67,"y":1,"v":14},{"x":68,"y":1,"v":15},{"x":69,"y":1,"v":18},{"x":70,"y":1,"v":15}
]},"mark":{"type":"rect","width":24.243,"height":24.243,"strokeWidth":0.4},"encoding":{"x":{"field":"x","type":"quantitative","scale":{"domain":[0.5,70.5],"nice":false,"zero":false},"axis":{"values":[10,20,30,40,50,60,70],"labelExpr":"datum.value==70?'':datum.label","labelFontSize":60,"titleFontSize":60,"title":"Residue index","tickSize":6,"labelPadding":2,"titlePadding":-4,"domain":false}},"y":{"field":"y","type":"quantitative","scale":{"domain":[0.5,70.5],"nice":false,"zero":false},"axis":{"values":[10,20,30,40,50,60,70],"labelExpr":"datum.value==70?'':datum.label","labelFontSize":60,"titleFontSize":60,"title":"Residue index","tickSize":6,"labelPadding":6,"titlePadding":2,"domain":false}},"color":{"field":"v","type":"quantitative","scale":{"type":"threshold","domain":[2.03,3.31,4.59,5.875,7.16,8.44,9.72,11,12.28,13.56,14.84,16.125,17.4,18.69,19.97],"range":["#ff0000","#ff2200","#ff4c00","#ff6600","#ff8800","#ffa500","#a0bb84","#99b587","#90ae8c","#87a791","#7da097","#74999e","#6a92a8","#5d8ab2","#5485bc","#0000ff"]},"legend":null},"stroke":{"field":"v","type":"quantitative","scale":{"type":"threshold","domain":[2.03,3.31,4.59,5.875,7.16,8.44,9.72,11,12.28,13.56,14.84,16.125,17.4,18.69,19.97],"range":["#ff0000","#ff2200","#ff4c00","#ff6600","#ff8800","#ffa500","#a0bb84","#99b587","#90ae8c","#87a791","#7da097","#74999e","#6a92a8","#5d8ab2","#5485bc","#0000ff"]},"legend":null}}},{"data":{"values":[{"x":1,"y":1}]},"mark":{"type":"point","opacity":0},"encoding":{"x":{"field":"x","type":"quantitative","scale":{"domain":[0.5,70.5],"nice":false,"zero":false},"axis":{"orient":"top","values":[10,20,30,40,50,60,70],"labels":false,"title":null,"tickSize":6,"domain":false}},"y":{"field":"y","type":"quantitative","scale":{"domain":[0.5,70.5],"nice":false,"zero":false},"axis":{"orient":"right","values":[10,20,30,40,50,60,70],"labels":false,"title":null,"tickSize":6,"domain":false}}}}]},{"width":14,"height":1697,"view":{"stroke":"#444"},"data":{"values":[{"lo":0.75,"hi":2.03,"v":1},{"lo":2.03,"hi":3.31,"v":3},{"lo":3.31,"hi":4.59,"v":4},{"lo":4.59,"hi":5.875,"v":5},{"lo":5.875,"hi":7.16,"v":7},{"lo":7.16,"hi":8.44,"v":8},{"lo":8.44,"hi":9.72,"v":9},{"lo":9.72,"hi":11,"v":10},{"lo":11,"hi":12.28,"v":12},{"lo":12.28,"hi":13.56,"v":13},{"lo":13.56,"hi":14.84,"v":14},{"lo":14.84,"hi":16.125,"v":15},{"lo":16.125,"hi":17.4,"v":17},{"lo":17.4,"hi":18.69,"v":18},{"lo":18.69,"hi":19.97,"v":19},{"lo":19.97,"hi":21.25,"v":21}]},"mark":{"type":"rect"},"encoding":{"y":{"field":"lo","type":"quantitative","scale":{"domain":[0.75,21.25],"nice":false,"zero":false},"axis":{"orient":"right","values":[5,10,15,20],"title":null,"labelFontSize":50,"tickSize":5,"labelPadding":3,"domain":false}},"y2":{"field":"hi"},"color":{"field":"v","type":"quantitative","scale":{"type":"threshold","domain":[2.03,3.31,4.59,5.875,7.16,8.44,9.72,11,12.28,13.56,14.84,16.125,17.4,18.69,19.97],"range":["#ff0000","#ff2200","#ff4c00","#ff6600","#ff8800","#ffa500","#a3bd83","#9cb787","#94b08b","#8aa890","#7fa093","#749898","#6a919f","#5f8aa8","#5584ba","#0000ff"]},"legend":null}}}]}
